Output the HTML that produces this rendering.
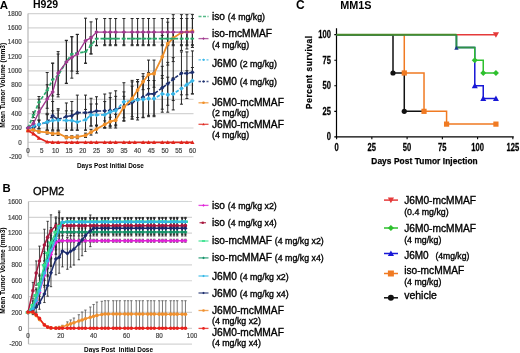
<!DOCTYPE html>
<html><head><meta charset="utf-8"><style>
html,body{margin:0;padding:0;background:#fff;}
body{width:520px;height:353px;overflow:hidden;font-family:"Liberation Sans", sans-serif;}
svg{display:block;will-change:transform;}
.l{stroke:#000;stroke-width:0.35px;}
.t{stroke:#444;stroke-width:0.2px;}
.c{stroke:#000;stroke-width:0.25px;}
</style></head><body><svg width="520" height="353" viewBox="0 0 520 353" font-family='"Liberation Sans", sans-serif'><line x1="28" y1="156.6" x2="193.5" y2="156.6" stroke="#d4d4d4" stroke-width="1.2"/><line x1="28" y1="142.3" x2="193.5" y2="142.3" stroke="#d4d4d4" stroke-width="1.2"/><line x1="28" y1="128" x2="193.5" y2="128" stroke="#d4d4d4" stroke-width="1.2"/><line x1="28" y1="113.7" x2="193.5" y2="113.7" stroke="#d4d4d4" stroke-width="1.2"/><line x1="28" y1="99.4" x2="193.5" y2="99.4" stroke="#d4d4d4" stroke-width="1.2"/><line x1="28" y1="85.1" x2="193.5" y2="85.1" stroke="#d4d4d4" stroke-width="1.2"/><line x1="28" y1="70.8" x2="193.5" y2="70.8" stroke="#d4d4d4" stroke-width="1.2"/><line x1="28" y1="56.5" x2="193.5" y2="56.5" stroke="#d4d4d4" stroke-width="1.2"/><line x1="28" y1="42.2" x2="193.5" y2="42.2" stroke="#d4d4d4" stroke-width="1.2"/><line x1="28" y1="27.9" x2="193.5" y2="27.9" stroke="#d4d4d4" stroke-width="1.2"/><line x1="28" y1="13.6" x2="193.5" y2="13.6" stroke="#d4d4d4" stroke-width="1.2"/><line x1="28" y1="13.6" x2="28" y2="156.6" stroke="#b8b8b8" stroke-width="1.2"/><text x="21.8" y="158.8" font-size="6.3" font-weight="normal" text-anchor="end" fill="#444" class="t">-200</text><text x="21.8" y="144.5" font-size="6.3" font-weight="normal" text-anchor="end" fill="#444" class="t">0</text><text x="21.8" y="130.2" font-size="6.3" font-weight="normal" text-anchor="end" fill="#444" class="t">200</text><text x="21.8" y="115.9" font-size="6.3" font-weight="normal" text-anchor="end" fill="#444" class="t">400</text><text x="21.8" y="101.6" font-size="6.3" font-weight="normal" text-anchor="end" fill="#444" class="t">600</text><text x="21.8" y="87.3" font-size="6.3" font-weight="normal" text-anchor="end" fill="#444" class="t">800</text><text x="21.8" y="73" font-size="6.3" font-weight="normal" text-anchor="end" fill="#444" class="t">1000</text><text x="21.8" y="58.7" font-size="6.3" font-weight="normal" text-anchor="end" fill="#444" class="t">1200</text><text x="21.8" y="44.4" font-size="6.3" font-weight="normal" text-anchor="end" fill="#444" class="t">1400</text><text x="21.8" y="30.1" font-size="6.3" font-weight="normal" text-anchor="end" fill="#444" class="t">1600</text><text x="21.8" y="15.8" font-size="6.3" font-weight="normal" text-anchor="end" fill="#444" class="t">1800</text><text x="28" y="152.8" font-size="6.3" font-weight="normal" text-anchor="middle" fill="#444" class="t">0</text><text x="41.7" y="152.8" font-size="6.3" font-weight="normal" text-anchor="middle" fill="#444" class="t">5</text><text x="55.4" y="152.8" font-size="6.3" font-weight="normal" text-anchor="middle" fill="#444" class="t">10</text><text x="69.1" y="152.8" font-size="6.3" font-weight="normal" text-anchor="middle" fill="#444" class="t">15</text><text x="82.8" y="152.8" font-size="6.3" font-weight="normal" text-anchor="middle" fill="#444" class="t">20</text><text x="96.5" y="152.8" font-size="6.3" font-weight="normal" text-anchor="middle" fill="#444" class="t">25</text><text x="110.2" y="152.8" font-size="6.3" font-weight="normal" text-anchor="middle" fill="#444" class="t">30</text><text x="123.9" y="152.8" font-size="6.3" font-weight="normal" text-anchor="middle" fill="#444" class="t">35</text><text x="137.6" y="152.8" font-size="6.3" font-weight="normal" text-anchor="middle" fill="#444" class="t">40</text><text x="151.3" y="152.8" font-size="6.3" font-weight="normal" text-anchor="middle" fill="#444" class="t">45</text><text x="165" y="152.8" font-size="6.3" font-weight="normal" text-anchor="middle" fill="#444" class="t">50</text><text x="178.7" y="152.8" font-size="6.3" font-weight="normal" text-anchor="middle" fill="#444" class="t">55</text><text x="192.4" y="152.8" font-size="6.3" font-weight="normal" text-anchor="middle" fill="#444" class="t">60</text><path d="M33.48 124.64V130.36M31.98 124.64H34.98M31.98 130.36H34.98M38.96 120.14V128.72M37.46 120.14H40.46M37.46 128.72H40.46M47.18 114.7V130.15M45.68 114.7H48.68M45.68 130.15H48.68M52.66 101.47V130.07M51.16 101.47H54.16M51.16 130.07H54.16M58.14 108.7V130.15M56.64 108.7H59.64M56.64 130.15H59.64M66.36 102.98V130.15M64.86 102.98H67.86M64.86 130.15H67.86M71.84 101.47V130.07M70.34 101.47H73.34M70.34 130.07H73.34M77.32 95.11V130.15M75.82 95.11H78.82M75.82 130.15H78.82M85.54 95.11V130.15M84.04 95.11H87.04M84.04 130.15H87.04M91.02 98.26V126M89.52 98.26H92.52M89.52 126H92.52M96.5 96.75V125.35M95 96.75H98M95 125.35H98M104.72 94.04V127.64M103.22 94.04H106.22M103.22 127.64H106.22M110.2 92.97V128M108.7 92.97H111.7M108.7 128H111.7M115.68 90.82V128M114.18 90.82H117.18M114.18 128H117.18M123.9 91.89V121.21M122.4 91.89H125.4M122.4 121.21H125.4M132.12 86.17V119.06M130.62 86.17H133.62M130.62 119.06H133.62M137.6 79.52V119.99M136.1 79.52H139.1M136.1 119.99H139.1M143.08 76.31V117.78M141.58 76.31H144.58M141.58 117.78H144.58M148.56 72.44V115.34M147.06 72.44H150.06M147.06 115.34H150.06M154.04 72.44V115.34M152.54 72.44H155.54M152.54 115.34H155.54M162.26 66.3V109.2M160.76 66.3H163.76M160.76 109.2H163.76M167.74 62.36V105.26M166.24 62.36H169.24M166.24 105.26H169.24M173.22 57.64V100.54M171.72 57.64H174.72M171.72 100.54H174.72M181.44 51.92V94.82M179.94 51.92H182.94M179.94 94.82H182.94M186.92 51.92V94.82M185.42 51.92H188.42M185.42 94.82H188.42M192.4 50.92V93.82M190.9 50.92H193.9M190.9 93.82H193.9" stroke="#262626" stroke-width="1.0" fill="none"/><path d="M33.48 123V128.72M31.98 123H34.98M31.98 128.72H34.98M38.96 120.14V128.72M37.46 120.14H40.46M37.46 128.72H40.46M47.18 114.2V129.93M45.68 114.2H48.68M45.68 129.93H48.68M52.66 110.84V130.15M51.16 110.84H54.16M51.16 130.15H54.16M58.14 110.13V130.15M56.64 110.13H59.64M56.64 130.15H59.64M66.36 110.84V130.15M64.86 110.84H67.86M64.86 130.15H67.86M71.84 110.84V130.15M70.34 110.84H73.34M70.34 130.15H73.34M77.32 113.99V130.15M75.82 113.99H78.82M75.82 130.15H78.82M85.54 109.41V130.15M84.04 109.41H87.04M84.04 130.15H87.04M91.02 103.98V126M89.52 103.98H92.52M89.52 126H92.52M96.5 103.98V126M95 103.98H98M95 126H98M104.72 101.55V128M103.22 101.55H106.22M103.22 128H106.22M110.2 97.61V126.21M108.7 97.61H111.7M108.7 126.21H111.7M115.68 96.33V124.93M114.18 96.33H117.18M114.18 124.93H117.18M123.9 82.74V120.64M122.4 82.74H125.4M122.4 120.64H125.4M132.12 81.88V119.06M130.62 81.88H133.62M130.62 119.06H133.62M137.6 81.88V117.63M136.1 81.88H139.1M136.1 117.63H139.1M143.08 81.53V117.28M141.58 81.53H144.58M141.58 117.28H144.58M148.56 80.52V116.7M147.06 80.52H150.06M147.06 116.7H150.06M154.04 80.52V116.7M152.54 80.52H155.54M152.54 116.7H155.54M162.26 75.59V112.2M160.76 75.59H163.76M160.76 112.2H163.76M167.74 77.16V112.2M166.24 77.16H169.24M166.24 112.2H169.24M173.22 77.88V109.91M171.72 77.88H174.72M171.72 109.91H174.72M181.44 72.87V104.19M179.94 72.87H182.94M179.94 104.19H182.94M186.92 70.73V98.47M185.42 70.73H188.42M185.42 98.47H188.42M192.4 67.51V93.97M190.9 67.51H193.9M190.9 93.97H193.9" stroke="#262626" stroke-width="1.0" fill="none"/><path d="M33.48 128.72V130.86M31.98 128.72H34.98M31.98 130.86H34.98M38.96 130.15V133.01M37.46 130.15H40.46M37.46 133.01H40.46M47.18 130.5V134.08M45.68 130.5H48.68M45.68 134.08H48.68M52.66 131.93V135.51M51.16 131.93H54.16M51.16 135.51H54.16M58.14 131.22V135.51M56.64 131.22H59.64M56.64 135.51H59.64M66.36 135.87V138.73M64.86 135.87H67.86M64.86 138.73H67.86M71.84 135.72V138.58M70.34 135.72H73.34M70.34 138.58H73.34M77.32 135.15V138.73M75.82 135.15H78.82M75.82 138.73H78.82M85.54 133.15V137.44M84.04 133.15H87.04M84.04 137.44H87.04M91.02 129.36V135.08M89.52 129.36H92.52M89.52 135.08H92.52M96.5 125.14V133.01M95 125.14H98M95 133.01H98M104.72 120.85V128M103.22 120.85H106.22M103.22 128H106.22M110.2 117.28V125.86M108.7 117.28H111.7M108.7 125.86H111.7M115.68 114.42V125.86M114.18 114.42H117.18M114.18 125.86H117.18M123.9 96.33V117.78M122.4 96.33H125.4M122.4 117.78H125.4M132.12 80.38V116.7M130.62 80.38H133.62M130.62 116.7H133.62M137.6 81.53V98.69M136.1 81.53H139.1M136.1 98.69H139.1M143.08 73.66V89.68M141.58 73.66H144.58M141.58 89.68H144.58M148.56 60.08V88.68M147.06 60.08H150.06M147.06 88.68H150.06M154.04 60.08V87.25M152.54 60.08H155.54M152.54 87.25H155.54M162.26 35.41V78.31M160.76 35.41H163.76M160.76 78.31H163.76M167.74 22.18V65.08M166.24 22.18H169.24M166.24 65.08H169.24M173.22 14.67V61.58M171.72 14.67H174.72M171.72 61.58H174.72M181.44 14.67V50.42M179.94 14.67H182.94M179.94 50.42H182.94M186.92 14.67V48.99M185.42 14.67H188.42M185.42 48.99H188.42M192.4 14.6V47.49M190.9 14.6H193.9M190.9 47.49H193.9" stroke="#262626" stroke-width="1.0" fill="none"/><path d="M33.48 111.91V117.63M31.98 111.91H34.98M31.98 117.63H34.98M38.96 96.54V107.98M37.46 96.54H40.46M37.46 107.98H40.46M47.18 72.52V108.27M45.68 72.52H48.68M45.68 108.27H48.68M52.66 63.08V95.97M51.16 63.08H54.16M51.16 95.97H54.16M58.14 54V96.9M56.64 54H59.64M56.64 96.9H59.64M66.36 40.27V83.17M64.86 40.27H67.86M64.86 83.17H67.86M71.84 36.77V71.09M70.34 36.77H73.34M70.34 71.09H73.34M77.32 34.48V71.66M75.82 34.48H78.82M75.82 71.66H78.82M85.54 40.34V63.22M84.04 40.34H87.04M84.04 63.22H87.04M91.02 36.62V53.93M89.52 36.62H92.52M89.52 53.93H92.52M96.5 31.48V45.78M95 31.48H98M95 45.78H98M104.72 32.55V44.7M103.22 32.55H106.22M103.22 44.7H106.22M110.2 32.55V44.7M108.7 32.55H111.7M108.7 44.7H111.7M115.68 32.55V44.7M114.18 32.55H117.18M114.18 44.7H117.18M123.9 32.55V44.7M122.4 32.55H125.4M122.4 44.7H125.4M132.12 32.55V44.7M130.62 32.55H133.62M130.62 44.7H133.62M137.6 32.55V44.7M136.1 32.55H139.1M136.1 44.7H139.1M143.08 32.55V44.7M141.58 32.55H144.58M141.58 44.7H144.58M148.56 32.55V44.7M147.06 32.55H150.06M147.06 44.7H150.06M154.04 32.55V44.7M152.54 32.55H155.54M152.54 44.7H155.54M162.26 32.55V44.7M160.76 32.55H163.76M160.76 44.7H163.76M167.74 32.55V44.7M166.24 32.55H169.24M166.24 44.7H169.24M173.22 32.55V44.7M171.72 32.55H174.72M171.72 44.7H174.72M181.44 32.55V44.7M179.94 32.55H182.94M179.94 44.7H182.94M186.92 32.55V44.7M185.42 32.55H188.42M185.42 44.7H188.42M192.4 32.55V44.7M190.9 32.55H193.9M190.9 44.7H193.9" stroke="#262626" stroke-width="1.0" fill="none"/><path d="M33.48 120.71V126.43M31.98 120.71H34.98M31.98 126.43H34.98M38.96 99.19V124.93M37.46 99.19H40.46M37.46 124.93H40.46M47.18 84.74V113.34M45.68 84.74H48.68M45.68 113.34H48.68M52.66 63.29V120.49M51.16 63.29H54.16M51.16 120.49H54.16M58.14 51.64V94.54M56.64 51.64H59.64M56.64 94.54H59.64M66.36 40.63V83.53M64.86 40.63H67.86M64.86 83.53H67.86M71.84 36.69V78.16M70.34 36.69H73.34M70.34 78.16H73.34M77.32 34.34V73.66M75.82 34.34H78.82M75.82 73.66H78.82M85.54 18.18V63.22M84.04 18.18H87.04M84.04 63.22H87.04M91.02 21.89V53.93M89.52 21.89H92.52M89.52 53.93H92.52M96.5 18.89V45.35M95 18.89H98M95 45.35H98M104.72 18.53V45.7M103.22 18.53H106.22M103.22 45.7H106.22M110.2 18.53V45.7M108.7 18.53H111.7M108.7 45.7H111.7M115.68 18.53V45.7M114.18 18.53H117.18M114.18 45.7H117.18M123.9 18.53V45.7M122.4 18.53H125.4M122.4 45.7H125.4M132.12 18.53V45.7M130.62 18.53H133.62M130.62 45.7H133.62M137.6 18.53V45.7M136.1 18.53H139.1M136.1 45.7H139.1M143.08 18.53V45.7M141.58 18.53H144.58M141.58 45.7H144.58M148.56 18.53V45.7M147.06 18.53H150.06M147.06 45.7H150.06M154.04 18.53V45.7M152.54 18.53H155.54M152.54 45.7H155.54M162.26 18.53V45.7M160.76 18.53H163.76M160.76 45.7H163.76M167.74 18.53V45.7M166.24 18.53H169.24M166.24 45.7H169.24M173.22 18.53V45.7M171.72 18.53H174.72M171.72 45.7H174.72M181.44 18.53V45.7M179.94 18.53H182.94M179.94 45.7H182.94M186.92 18.53V45.7M185.42 18.53H188.42M185.42 45.7H188.42M192.4 18.53V45.7M190.9 18.53H193.9M190.9 45.7H193.9" stroke="#262626" stroke-width="1.0" fill="none"/><polyline points="28,128 33.48,127.5 38.96,124.43 47.18,122.42 52.66,115.77 58.14,119.42 66.36,116.56 71.84,115.77 77.32,112.63 85.54,112.63 91.02,112.13 96.5,111.05 104.72,110.84 110.2,110.48 115.68,109.41 123.9,106.55 132.12,102.62 137.6,99.76 143.08,97.04 148.56,93.89 154.04,93.89 162.26,87.75 167.74,83.81 173.22,79.09 181.44,73.37 186.92,73.37 192.4,72.37" stroke="#1d2f6e" stroke-width="1.6" fill="none" stroke-linejoin="round" stroke-dasharray="3.5,1.6"/><path d="M28 125.8L30.2 128L28 130.2L25.8 128Z" fill="#1d2f6e"/><path d="M33.48 125.3L35.68 127.5L33.48 129.7L31.28 127.5Z" fill="#1d2f6e"/><path d="M38.96 122.23L41.16 124.43L38.96 126.63L36.76 124.43Z" fill="#1d2f6e"/><path d="M47.18 120.22L49.38 122.42L47.18 124.62L44.98 122.42Z" fill="#1d2f6e"/><path d="M52.66 113.57L54.86 115.77L52.66 117.97L50.46 115.77Z" fill="#1d2f6e"/><path d="M58.14 117.22L60.34 119.42L58.14 121.62L55.94 119.42Z" fill="#1d2f6e"/><path d="M66.36 114.36L68.56 116.56L66.36 118.76L64.16 116.56Z" fill="#1d2f6e"/><path d="M71.84 113.57L74.04 115.77L71.84 117.97L69.64 115.77Z" fill="#1d2f6e"/><path d="M77.32 110.43L79.52 112.63L77.32 114.83L75.12 112.63Z" fill="#1d2f6e"/><path d="M85.54 110.43L87.74 112.63L85.54 114.83L83.34 112.63Z" fill="#1d2f6e"/><path d="M91.02 109.93L93.22 112.13L91.02 114.33L88.82 112.13Z" fill="#1d2f6e"/><path d="M96.5 108.85L98.7 111.05L96.5 113.25L94.3 111.05Z" fill="#1d2f6e"/><path d="M104.72 108.64L106.92 110.84L104.72 113.04L102.52 110.84Z" fill="#1d2f6e"/><path d="M110.2 108.28L112.4 110.48L110.2 112.68L108 110.48Z" fill="#1d2f6e"/><path d="M115.68 107.21L117.88 109.41L115.68 111.61L113.48 109.41Z" fill="#1d2f6e"/><path d="M123.9 104.35L126.1 106.55L123.9 108.75L121.7 106.55Z" fill="#1d2f6e"/><path d="M132.12 100.42L134.32 102.62L132.12 104.82L129.92 102.62Z" fill="#1d2f6e"/><path d="M137.6 97.56L139.8 99.76L137.6 101.96L135.4 99.76Z" fill="#1d2f6e"/><path d="M143.08 94.84L145.28 97.04L143.08 99.24L140.88 97.04Z" fill="#1d2f6e"/><path d="M148.56 91.69L150.76 93.89L148.56 96.09L146.36 93.89Z" fill="#1d2f6e"/><path d="M154.04 91.69L156.24 93.89L154.04 96.09L151.84 93.89Z" fill="#1d2f6e"/><path d="M162.26 85.55L164.46 87.75L162.26 89.95L160.06 87.75Z" fill="#1d2f6e"/><path d="M167.74 81.61L169.94 83.81L167.74 86.01L165.54 83.81Z" fill="#1d2f6e"/><path d="M173.22 76.89L175.42 79.09L173.22 81.29L171.02 79.09Z" fill="#1d2f6e"/><path d="M181.44 71.17L183.64 73.37L181.44 75.57L179.24 73.37Z" fill="#1d2f6e"/><path d="M186.92 71.17L189.12 73.37L186.92 75.57L184.72 73.37Z" fill="#1d2f6e"/><path d="M192.4 70.17L194.6 72.37L192.4 74.57L190.2 72.37Z" fill="#1d2f6e"/><polyline points="28,128 33.48,125.86 38.96,124.43 47.18,122.07 52.66,120.49 58.14,120.14 66.36,120.49 71.84,120.49 77.32,122.07 85.54,119.78 91.02,114.99 96.5,114.99 104.72,114.77 110.2,111.91 115.68,110.63 123.9,101.69 132.12,100.47 137.6,99.76 143.08,99.4 148.56,98.61 154.04,98.61 162.26,93.89 167.74,94.68 173.22,93.89 181.44,88.53 186.92,84.6 192.4,80.74" stroke="#38b6e8" stroke-width="1.7" fill="none" stroke-linejoin="round" stroke-dasharray="3.5,1.6"/><path d="M28 125.7L30.3 128L28 130.3L25.7 128Z" fill="#38b6e8"/><path d="M33.48 123.56L35.78 125.86L33.48 128.16L31.18 125.86Z" fill="#38b6e8"/><path d="M38.96 122.13L41.26 124.43L38.96 126.73L36.66 124.43Z" fill="#38b6e8"/><path d="M47.18 119.77L49.48 122.07L47.18 124.37L44.88 122.07Z" fill="#38b6e8"/><path d="M52.66 118.19L54.96 120.49L52.66 122.79L50.36 120.49Z" fill="#38b6e8"/><path d="M58.14 117.84L60.44 120.14L58.14 122.44L55.84 120.14Z" fill="#38b6e8"/><path d="M66.36 118.19L68.66 120.49L66.36 122.79L64.06 120.49Z" fill="#38b6e8"/><path d="M71.84 118.19L74.14 120.49L71.84 122.79L69.54 120.49Z" fill="#38b6e8"/><path d="M77.32 119.77L79.62 122.07L77.32 124.37L75.02 122.07Z" fill="#38b6e8"/><path d="M85.54 117.48L87.84 119.78L85.54 122.08L83.24 119.78Z" fill="#38b6e8"/><path d="M91.02 112.69L93.32 114.99L91.02 117.29L88.72 114.99Z" fill="#38b6e8"/><path d="M96.5 112.69L98.8 114.99L96.5 117.29L94.2 114.99Z" fill="#38b6e8"/><path d="M104.72 112.47L107.02 114.77L104.72 117.07L102.42 114.77Z" fill="#38b6e8"/><path d="M110.2 109.61L112.5 111.91L110.2 114.21L107.9 111.91Z" fill="#38b6e8"/><path d="M115.68 108.33L117.98 110.63L115.68 112.93L113.38 110.63Z" fill="#38b6e8"/><path d="M123.9 99.39L126.2 101.69L123.9 103.99L121.6 101.69Z" fill="#38b6e8"/><path d="M132.12 98.17L134.42 100.47L132.12 102.77L129.82 100.47Z" fill="#38b6e8"/><path d="M137.6 97.46L139.9 99.76L137.6 102.06L135.3 99.76Z" fill="#38b6e8"/><path d="M143.08 97.1L145.38 99.4L143.08 101.7L140.78 99.4Z" fill="#38b6e8"/><path d="M148.56 96.31L150.86 98.61L148.56 100.91L146.26 98.61Z" fill="#38b6e8"/><path d="M154.04 96.31L156.34 98.61L154.04 100.91L151.74 98.61Z" fill="#38b6e8"/><path d="M162.26 91.59L164.56 93.89L162.26 96.19L159.96 93.89Z" fill="#38b6e8"/><path d="M167.74 92.38L170.04 94.68L167.74 96.98L165.44 94.68Z" fill="#38b6e8"/><path d="M173.22 91.59L175.52 93.89L173.22 96.19L170.92 93.89Z" fill="#38b6e8"/><path d="M181.44 86.23L183.74 88.53L181.44 90.83L179.14 88.53Z" fill="#38b6e8"/><path d="M186.92 82.3L189.22 84.6L186.92 86.9L184.62 84.6Z" fill="#38b6e8"/><path d="M192.4 78.44L194.7 80.74L192.4 83.04L190.1 80.74Z" fill="#38b6e8"/><polyline points="28,130.5 33.48,129.79 38.96,131.58 47.18,132.29 52.66,133.72 58.14,133.36 66.36,137.3 71.84,137.15 77.32,136.94 85.54,135.29 91.02,132.22 96.5,129.07 104.72,124.43 110.2,121.57 115.68,120.14 123.9,107.05 132.12,98.54 137.6,90.11 143.08,81.67 148.56,74.38 154.04,73.66 162.26,56.86 167.74,43.63 173.22,38.12 181.44,32.55 186.92,31.83 192.4,31.05" stroke="#f0902a" stroke-width="1.8" fill="none" stroke-linejoin="round"/><circle cx="28" cy="130.5" r="1.9" fill="#f0902a"/><circle cx="33.48" cy="129.79" r="1.9" fill="#f0902a"/><circle cx="38.96" cy="131.58" r="1.9" fill="#f0902a"/><circle cx="47.18" cy="132.29" r="1.9" fill="#f0902a"/><circle cx="52.66" cy="133.72" r="1.9" fill="#f0902a"/><circle cx="58.14" cy="133.36" r="1.9" fill="#f0902a"/><circle cx="66.36" cy="137.3" r="1.9" fill="#f0902a"/><circle cx="71.84" cy="137.15" r="1.9" fill="#f0902a"/><circle cx="77.32" cy="136.94" r="1.9" fill="#f0902a"/><circle cx="85.54" cy="135.29" r="1.9" fill="#f0902a"/><circle cx="91.02" cy="132.22" r="1.9" fill="#f0902a"/><circle cx="96.5" cy="129.07" r="1.9" fill="#f0902a"/><circle cx="104.72" cy="124.43" r="1.9" fill="#f0902a"/><circle cx="110.2" cy="121.57" r="1.9" fill="#f0902a"/><circle cx="115.68" cy="120.14" r="1.9" fill="#f0902a"/><circle cx="123.9" cy="107.05" r="1.9" fill="#f0902a"/><circle cx="132.12" cy="98.54" r="1.9" fill="#f0902a"/><circle cx="137.6" cy="90.11" r="1.9" fill="#f0902a"/><circle cx="143.08" cy="81.67" r="1.9" fill="#f0902a"/><circle cx="148.56" cy="74.38" r="1.9" fill="#f0902a"/><circle cx="154.04" cy="73.66" r="1.9" fill="#f0902a"/><circle cx="162.26" cy="56.86" r="1.9" fill="#f0902a"/><circle cx="167.74" cy="43.63" r="1.9" fill="#f0902a"/><circle cx="173.22" cy="38.12" r="1.9" fill="#f0902a"/><circle cx="181.44" cy="32.55" r="1.9" fill="#f0902a"/><circle cx="186.92" cy="31.83" r="1.9" fill="#f0902a"/><circle cx="192.4" cy="31.05" r="1.9" fill="#f0902a"/><polyline points="28,128 33.48,114.77 38.96,102.26 47.18,90.39 52.66,79.52 58.14,75.45 66.36,61.72 71.84,53.93 77.32,53.07 85.54,51.78 91.02,45.27 96.5,38.63 104.72,38.63 110.2,38.63 115.68,38.63 123.9,38.63 132.12,38.63 137.6,38.63 143.08,38.63 148.56,38.63 154.04,38.63 162.26,38.63 167.74,38.63 173.22,38.63 181.44,38.63 186.92,38.63 192.4,38.63" stroke="#2aa86a" stroke-width="1.7" fill="none" stroke-linejoin="round" stroke-dasharray="3.5,1.8"/><rect x="26.32" y="127.16" width="3.36" height="1.68" fill="#2aa86a"/><rect x="31.8" y="113.93" width="3.36" height="1.68" fill="#2aa86a"/><rect x="37.28" y="101.42" width="3.36" height="1.68" fill="#2aa86a"/><rect x="45.5" y="89.55" width="3.36" height="1.68" fill="#2aa86a"/><rect x="50.98" y="78.68" width="3.36" height="1.68" fill="#2aa86a"/><rect x="56.46" y="74.61" width="3.36" height="1.68" fill="#2aa86a"/><rect x="64.68" y="60.88" width="3.36" height="1.68" fill="#2aa86a"/><rect x="70.16" y="53.09" width="3.36" height="1.68" fill="#2aa86a"/><rect x="75.64" y="52.23" width="3.36" height="1.68" fill="#2aa86a"/><rect x="83.86" y="50.94" width="3.36" height="1.68" fill="#2aa86a"/><rect x="89.34" y="44.43" width="3.36" height="1.68" fill="#2aa86a"/><rect x="94.82" y="37.79" width="3.36" height="1.68" fill="#2aa86a"/><rect x="103.04" y="37.79" width="3.36" height="1.68" fill="#2aa86a"/><rect x="108.52" y="37.79" width="3.36" height="1.68" fill="#2aa86a"/><rect x="114" y="37.79" width="3.36" height="1.68" fill="#2aa86a"/><rect x="122.22" y="37.79" width="3.36" height="1.68" fill="#2aa86a"/><rect x="130.44" y="37.79" width="3.36" height="1.68" fill="#2aa86a"/><rect x="135.92" y="37.79" width="3.36" height="1.68" fill="#2aa86a"/><rect x="141.4" y="37.79" width="3.36" height="1.68" fill="#2aa86a"/><rect x="146.88" y="37.79" width="3.36" height="1.68" fill="#2aa86a"/><rect x="152.36" y="37.79" width="3.36" height="1.68" fill="#2aa86a"/><rect x="160.58" y="37.79" width="3.36" height="1.68" fill="#2aa86a"/><rect x="166.06" y="37.79" width="3.36" height="1.68" fill="#2aa86a"/><rect x="171.54" y="37.79" width="3.36" height="1.68" fill="#2aa86a"/><rect x="179.76" y="37.79" width="3.36" height="1.68" fill="#2aa86a"/><rect x="185.24" y="37.79" width="3.36" height="1.68" fill="#2aa86a"/><rect x="190.72" y="37.79" width="3.36" height="1.68" fill="#2aa86a"/><polyline points="28,128 33.48,123.57 38.96,112.06 47.18,99.04 52.66,91.89 58.14,73.09 66.36,62.08 71.84,57.43 77.32,54 85.54,40.7 91.02,37.91 96.5,32.12 104.72,32.12 110.2,32.12 115.68,32.12 123.9,32.12 132.12,32.12 137.6,32.12 143.08,32.12 148.56,32.12 154.04,32.12 162.26,32.12 167.74,32.12 173.22,32.12 181.44,32.12 186.92,32.12 192.4,32.12" stroke="#a0388f" stroke-width="1.4" fill="none" stroke-linejoin="round"/><path d="M28 125.8L30.2 128L28 130.2L25.8 128Z" fill="#a0388f"/><path d="M33.48 121.37L35.68 123.57L33.48 125.77L31.28 123.57Z" fill="#a0388f"/><path d="M38.96 109.86L41.16 112.06L38.96 114.26L36.76 112.06Z" fill="#a0388f"/><path d="M47.18 96.84L49.38 99.04L47.18 101.24L44.98 99.04Z" fill="#a0388f"/><path d="M52.66 89.69L54.86 91.89L52.66 94.09L50.46 91.89Z" fill="#a0388f"/><path d="M58.14 70.89L60.34 73.09L58.14 75.29L55.94 73.09Z" fill="#a0388f"/><path d="M66.36 59.88L68.56 62.08L66.36 64.28L64.16 62.08Z" fill="#a0388f"/><path d="M71.84 55.23L74.04 57.43L71.84 59.63L69.64 57.43Z" fill="#a0388f"/><path d="M77.32 51.8L79.52 54L77.32 56.2L75.12 54Z" fill="#a0388f"/><path d="M85.54 38.5L87.74 40.7L85.54 42.9L83.34 40.7Z" fill="#a0388f"/><path d="M91.02 35.71L93.22 37.91L91.02 40.11L88.82 37.91Z" fill="#a0388f"/><path d="M96.5 29.92L98.7 32.12L96.5 34.32L94.3 32.12Z" fill="#a0388f"/><path d="M104.72 29.92L106.92 32.12L104.72 34.32L102.52 32.12Z" fill="#a0388f"/><path d="M110.2 29.92L112.4 32.12L110.2 34.32L108 32.12Z" fill="#a0388f"/><path d="M115.68 29.92L117.88 32.12L115.68 34.32L113.48 32.12Z" fill="#a0388f"/><path d="M123.9 29.92L126.1 32.12L123.9 34.32L121.7 32.12Z" fill="#a0388f"/><path d="M132.12 29.92L134.32 32.12L132.12 34.32L129.92 32.12Z" fill="#a0388f"/><path d="M137.6 29.92L139.8 32.12L137.6 34.32L135.4 32.12Z" fill="#a0388f"/><path d="M143.08 29.92L145.28 32.12L143.08 34.32L140.88 32.12Z" fill="#a0388f"/><path d="M148.56 29.92L150.76 32.12L148.56 34.32L146.36 32.12Z" fill="#a0388f"/><path d="M154.04 29.92L156.24 32.12L154.04 34.32L151.84 32.12Z" fill="#a0388f"/><path d="M162.26 29.92L164.46 32.12L162.26 34.32L160.06 32.12Z" fill="#a0388f"/><path d="M167.74 29.92L169.94 32.12L167.74 34.32L165.54 32.12Z" fill="#a0388f"/><path d="M173.22 29.92L175.42 32.12L173.22 34.32L171.02 32.12Z" fill="#a0388f"/><path d="M181.44 29.92L183.64 32.12L181.44 34.32L179.24 32.12Z" fill="#a0388f"/><path d="M186.92 29.92L189.12 32.12L186.92 34.32L184.72 32.12Z" fill="#a0388f"/><path d="M192.4 29.92L194.6 32.12L192.4 34.32L190.2 32.12Z" fill="#a0388f"/><polyline points="28,130.5 33.48,133.72 38.96,138.01 47.18,141.94 52.66,142.3 58.14,142.3 66.36,142.3 71.84,142.3 77.32,142.3 85.54,142.3 91.02,142.3 96.5,142.3 104.72,142.3 110.2,142.3 115.68,142.3 123.9,142.3 129.38,142.3 134.86,142.3 143.08,142.3 148.56,142.3 154.04,142.3 162.26,142.3 167.74,142.3 173.22,142.3 181.44,142.3 186.92,142.3 192.4,142.3" stroke="#e0251d" stroke-width="1.8" fill="none" stroke-linejoin="round"/><path d="M28 128.4L30.1 132.18L25.9 132.18Z" fill="#e0251d"/><path d="M33.48 131.62L35.58 135.4L31.38 135.4Z" fill="#e0251d"/><path d="M38.96 135.91L41.06 139.69L36.86 139.69Z" fill="#e0251d"/><path d="M47.18 139.84L49.28 143.62L45.08 143.62Z" fill="#e0251d"/><path d="M52.66 140.2L54.76 143.98L50.56 143.98Z" fill="#e0251d"/><path d="M58.14 140.2L60.24 143.98L56.04 143.98Z" fill="#e0251d"/><path d="M66.36 140.2L68.46 143.98L64.26 143.98Z" fill="#e0251d"/><path d="M71.84 140.2L73.94 143.98L69.74 143.98Z" fill="#e0251d"/><path d="M77.32 140.2L79.42 143.98L75.22 143.98Z" fill="#e0251d"/><path d="M85.54 140.2L87.64 143.98L83.44 143.98Z" fill="#e0251d"/><path d="M91.02 140.2L93.12 143.98L88.92 143.98Z" fill="#e0251d"/><path d="M96.5 140.2L98.6 143.98L94.4 143.98Z" fill="#e0251d"/><path d="M104.72 140.2L106.82 143.98L102.62 143.98Z" fill="#e0251d"/><path d="M110.2 140.2L112.3 143.98L108.1 143.98Z" fill="#e0251d"/><path d="M115.68 140.2L117.78 143.98L113.58 143.98Z" fill="#e0251d"/><path d="M123.9 140.2L126 143.98L121.8 143.98Z" fill="#e0251d"/><path d="M129.38 140.2L131.48 143.98L127.28 143.98Z" fill="#e0251d"/><path d="M134.86 140.2L136.96 143.98L132.76 143.98Z" fill="#e0251d"/><path d="M143.08 140.2L145.18 143.98L140.98 143.98Z" fill="#e0251d"/><path d="M148.56 140.2L150.66 143.98L146.46 143.98Z" fill="#e0251d"/><path d="M154.04 140.2L156.14 143.98L151.94 143.98Z" fill="#e0251d"/><path d="M162.26 140.2L164.36 143.98L160.16 143.98Z" fill="#e0251d"/><path d="M167.74 140.2L169.84 143.98L165.64 143.98Z" fill="#e0251d"/><path d="M173.22 140.2L175.32 143.98L171.12 143.98Z" fill="#e0251d"/><path d="M181.44 140.2L183.54 143.98L179.34 143.98Z" fill="#e0251d"/><path d="M186.92 140.2L189.02 143.98L184.82 143.98Z" fill="#e0251d"/><path d="M192.4 140.2L194.5 143.98L190.3 143.98Z" fill="#e0251d"/><text x="-0.2" y="8.8" font-size="11.5" font-weight="bold" text-anchor="start" fill="#000">A</text><text x="33" y="8.4" font-size="10.5" font-weight="bold" text-anchor="start" fill="#000">H929</text><text x="76.9" y="167.5" font-size="6.4" font-weight="bold" text-anchor="start" fill="#000" textLength="67" lengthAdjust="spacingAndGlyphs">Days Post Initial Dose</text><text transform="translate(5.3,127.8) rotate(-90)" font-size="6.3" font-weight="bold" textLength="85" lengthAdjust="spacingAndGlyphs">Mean Tumor Volume (mm3)</text><line x1="198.5" y1="16.5" x2="208.5" y2="16.5" stroke="#2aa86a" stroke-width="1.3" stroke-opacity="0.8" stroke-dasharray="3,1.5"/><text class="l" x="212" y="20" font-size="10.2">iso <tspan font-size="8.8">(4 mg/kg)</tspan></text><line x1="198.5" y1="38.6" x2="208.5" y2="38.6" stroke="#a0388f" stroke-width="1.3" stroke-opacity="0.8"/><path d="M203.5 37.3L204.8 38.6L203.5 39.9L202.2 38.6Z" fill="#a0388f"/><text class="l" x="212" y="37.1" font-size="10.2">iso-mcMMAF</text><text class="l" x="212" y="47.5" font-size="8.8">(4 mg/kg)</text><line x1="198.5" y1="59.8" x2="208.5" y2="59.8" stroke="#38b6e8" stroke-width="1.3" stroke-opacity="0.8" stroke-dasharray="2.5,1.5"/><path d="M203.5 58.5L204.8 59.8L203.5 61.1L202.2 59.8Z" fill="#38b6e8"/><text class="l" x="212" y="66.5" font-size="10.2">J6M0 <tspan font-size="8.8">(2 mg/kg)</tspan></text><line x1="198.5" y1="81.5" x2="208.5" y2="81.5" stroke="#1d2f6e" stroke-width="1.3" stroke-opacity="0.8" stroke-dasharray="2.5,1.5"/><path d="M203.5 80.2L204.8 81.5L203.5 82.8L202.2 81.5Z" fill="#1d2f6e"/><text class="l" x="212" y="85.2" font-size="10.2">J6M0 <tspan font-size="8.8">(4 mg/kg)</tspan></text><line x1="198.5" y1="102.8" x2="208.5" y2="102.8" stroke="#f0902a" stroke-width="1.3" stroke-opacity="0.8"/><circle cx="203.5" cy="102.8" r="1.3" fill="#f0902a"/><text class="l" x="212" y="105.6" font-size="10.2">J6M0-mcMMAF</text><text class="l" x="212" y="115.7" font-size="8.8">(2 mg/kg)</text><line x1="198.5" y1="124.3" x2="208.5" y2="124.3" stroke="#e0251d" stroke-width="1.3" stroke-opacity="0.8"/><path d="M203.5 123L204.8 125.34L202.2 125.34Z" fill="#e0251d"/><text class="l" x="212" y="128.2" font-size="10.2">J6M0-mcMMAF</text><text class="l" x="212" y="138.3" font-size="8.8">(4 mg/kg)</text><line x1="28.5" y1="344.15" x2="192" y2="344.15" stroke="#d4d4d4" stroke-width="1.2"/><line x1="28.5" y1="328.3" x2="192" y2="328.3" stroke="#d4d4d4" stroke-width="1.2"/><line x1="28.5" y1="312.45" x2="192" y2="312.45" stroke="#d4d4d4" stroke-width="1.2"/><line x1="28.5" y1="296.6" x2="192" y2="296.6" stroke="#d4d4d4" stroke-width="1.2"/><line x1="28.5" y1="280.75" x2="192" y2="280.75" stroke="#d4d4d4" stroke-width="1.2"/><line x1="28.5" y1="264.9" x2="192" y2="264.9" stroke="#d4d4d4" stroke-width="1.2"/><line x1="28.5" y1="249.05" x2="192" y2="249.05" stroke="#d4d4d4" stroke-width="1.2"/><line x1="28.5" y1="233.2" x2="192" y2="233.2" stroke="#d4d4d4" stroke-width="1.2"/><line x1="28.5" y1="217.35" x2="192" y2="217.35" stroke="#d4d4d4" stroke-width="1.2"/><line x1="28.5" y1="201.5" x2="192" y2="201.5" stroke="#d4d4d4" stroke-width="1.2"/><line x1="28.5" y1="201.5" x2="28.5" y2="344.15" stroke="#b8b8b8" stroke-width="1.2"/><text x="22" y="346.35" font-size="6.3" font-weight="normal" text-anchor="end" fill="#444" class="t">-200</text><text x="22" y="330.5" font-size="6.3" font-weight="normal" text-anchor="end" fill="#444" class="t">0</text><text x="22" y="314.65" font-size="6.3" font-weight="normal" text-anchor="end" fill="#444" class="t">200</text><text x="22" y="298.8" font-size="6.3" font-weight="normal" text-anchor="end" fill="#444" class="t">400</text><text x="22" y="282.95" font-size="6.3" font-weight="normal" text-anchor="end" fill="#444" class="t">600</text><text x="22" y="267.1" font-size="6.3" font-weight="normal" text-anchor="end" fill="#444" class="t">800</text><text x="22" y="251.25" font-size="6.3" font-weight="normal" text-anchor="end" fill="#444" class="t">1000</text><text x="22" y="235.4" font-size="6.3" font-weight="normal" text-anchor="end" fill="#444" class="t">1200</text><text x="22" y="219.55" font-size="6.3" font-weight="normal" text-anchor="end" fill="#444" class="t">1400</text><text x="22" y="203.7" font-size="6.3" font-weight="normal" text-anchor="end" fill="#444" class="t">1600</text><text x="28" y="338.4" font-size="6.3" font-weight="normal" text-anchor="middle" fill="#444" class="t">0</text><text x="60.8" y="338.4" font-size="6.3" font-weight="normal" text-anchor="middle" fill="#444" class="t">20</text><text x="93.6" y="338.4" font-size="6.3" font-weight="normal" text-anchor="middle" fill="#444" class="t">40</text><text x="126.4" y="338.4" font-size="6.3" font-weight="normal" text-anchor="middle" fill="#444" class="t">60</text><text x="159.2" y="338.4" font-size="6.3" font-weight="normal" text-anchor="middle" fill="#444" class="t">80</text><text x="192" y="338.4" font-size="6.3" font-weight="normal" text-anchor="middle" fill="#444" class="t">100</text><path d="M32.92 282.37V298.94M31.72 282.37H34.12M31.72 298.94H34.12M36.2 260.94V285.24M35 260.94H37.4M35 285.24H37.4M39.48 246.12V275.76M38.28 246.12H40.68M38.28 275.76H40.68M44.4 229.24V260.94M43.2 229.24H45.6M43.2 260.94H45.6M47.68 221.31V253.01M46.48 221.31H48.88M46.48 253.01H48.88M50.96 214.84V246.54M49.76 214.84H52.16M49.76 246.54H52.16M55.88 218.14V233.2M54.68 218.14H57.08M54.68 233.2H57.08M59.16 218.14V233.2M57.96 218.14H60.36M57.96 233.2H60.36M62.44 218.14V233.2M61.24 218.14H63.64M61.24 233.2H63.64M67.36 218.14V233.2M66.16 218.14H68.56M66.16 233.2H68.56M70.64 218.14V233.2M69.44 218.14H71.84M69.44 233.2H71.84M73.92 218.14V233.2M72.72 218.14H75.12M72.72 233.2H75.12M78.84 218.14V233.2M77.64 218.14H80.04M77.64 233.2H80.04M82.12 218.14V233.2M80.92 218.14H83.32M80.92 233.2H83.32M85.4 218.14V233.2M84.2 218.14H86.6M84.2 233.2H86.6M90.32 218.14V233.2M89.12 218.14H91.52M89.12 233.2H91.52M93.6 218.14V233.2M92.4 218.14H94.8M92.4 233.2H94.8M96.88 218.14V233.2M95.68 218.14H98.08M95.68 233.2H98.08M101.8 218.14V233.2M100.6 218.14H103M100.6 233.2H103M105.08 218.14V233.2M103.88 218.14H106.28M103.88 233.2H106.28M108.36 218.14V233.2M107.16 218.14H109.56M107.16 233.2H109.56M113.28 218.14V233.2M112.08 218.14H114.48M112.08 233.2H114.48M116.56 218.14V233.2M115.36 218.14H117.76M115.36 233.2H117.76M119.84 218.14V233.2M118.64 218.14H121.04M118.64 233.2H121.04M124.76 218.14V233.2M123.56 218.14H125.96M123.56 233.2H125.96M128.04 218.14V233.2M126.84 218.14H129.24M126.84 233.2H129.24M131.32 218.14V233.2M130.12 218.14H132.52M130.12 233.2H132.52M136.24 218.14V233.2M135.04 218.14H137.44M135.04 233.2H137.44M139.52 218.14V233.2M138.32 218.14H140.72M138.32 233.2H140.72M142.8 218.14V233.2M141.6 218.14H144M141.6 233.2H144M147.72 218.14V233.2M146.52 218.14H148.92M146.52 233.2H148.92M151 218.14V233.2M149.8 218.14H152.2M149.8 233.2H152.2M154.28 218.14V233.2M153.08 218.14H155.48M153.08 233.2H155.48M159.2 218.14V233.2M158 218.14H160.4M158 233.2H160.4M162.48 218.14V233.2M161.28 218.14H163.68M161.28 233.2H163.68M165.76 218.14V233.2M164.56 218.14H166.96M164.56 233.2H166.96M170.68 218.14V233.2M169.48 218.14H171.88M169.48 233.2H171.88M173.96 218.14V233.2M172.76 218.14H175.16M172.76 233.2H175.16M177.24 218.14V233.2M176.04 218.14H178.44M176.04 233.2H178.44M182.16 218.14V233.2M180.96 218.14H183.36M180.96 233.2H183.36M185.44 218.14V233.2M184.24 218.14H186.64M184.24 233.2H186.64" stroke="#262626" stroke-width="0.85" fill="none"/><path d="M32.92 304.13V312.85M31.72 304.13H34.12M31.72 312.85H34.12M36.2 294.46V306.66M35 294.46H37.4M35 306.66H37.4M39.48 282.54V299.04M38.28 282.54H40.68M38.28 299.04H40.68M44.4 260.94V285.24M43.2 260.94H45.6M43.2 285.24H45.6M47.68 246.12V275.76M46.48 246.12H48.88M46.48 275.76H48.88M50.96 235.31V265.43M49.76 235.31H52.16M49.76 265.43H52.16M55.88 223.69V253.81M54.68 223.69H57.08M54.68 253.81H57.08M59.16 212.6V242.71M57.96 212.6H60.36M57.96 242.71H60.36M62.44 217.74V226.46M61.24 217.74H63.64M61.24 226.46H63.64M67.36 217.73V226.44M66.16 217.73H68.56M66.16 226.44H68.56M70.64 217.72V226.43M69.44 217.72H71.84M69.44 226.43H71.84M73.92 217.71V226.42M72.72 217.71H75.12M72.72 226.42H75.12M78.84 217.69V226.41M77.64 217.69H80.04M77.64 226.41H80.04M82.12 217.68V226.4M80.92 217.68H83.32M80.92 226.4H83.32M85.4 217.67V226.39M84.2 217.67H86.6M84.2 226.39H86.6M90.32 217.66V226.37M89.12 217.66H91.52M89.12 226.37H91.52M93.6 217.65V226.36M92.4 217.65H94.8M92.4 226.36H94.8M96.88 217.64V226.35M95.68 217.64H98.08M95.68 226.35H98.08M101.8 217.62V226.34M100.6 217.62H103M100.6 226.34H103M105.08 217.61V226.33M103.88 217.61H106.28M103.88 226.33H106.28M108.36 217.6V226.32M107.16 217.6H109.56M107.16 226.32H109.56M113.28 217.59V226.31M112.08 217.59H114.48M112.08 226.31H114.48M116.56 217.58V226.3M115.36 217.58H117.76M115.36 226.3H117.76M119.84 217.57V226.29M118.64 217.57H121.04M118.64 226.29H121.04M124.76 217.55V226.27M123.56 217.55H125.96M123.56 226.27H125.96M128.04 217.54V226.26M126.84 217.54H129.24M126.84 226.26H129.24M131.32 217.53V226.25M130.12 217.53H132.52M130.12 226.25H132.52M136.24 217.52V226.24M135.04 217.52H137.44M135.04 226.24H137.44M139.52 217.51V226.23M138.32 217.51H140.72M138.32 226.23H140.72M142.8 217.5V226.22M141.6 217.5H144M141.6 226.22H144M147.72 217.48V226.2M146.52 217.48H148.92M146.52 226.2H148.92M151 217.47V226.19M149.8 217.47H152.2M149.8 226.19H152.2M154.28 217.46V226.18M153.08 217.46H155.48M153.08 226.18H155.48M159.2 217.45V226.17M158 217.45H160.4M158 226.17H160.4M162.48 217.44V226.16M161.28 217.44H163.68M161.28 226.16H163.68M165.76 217.43V226.15M164.56 217.43H166.96M164.56 226.15H166.96M170.68 217.41V226.13M169.48 217.41H171.88M169.48 226.13H171.88M173.96 217.4V226.12M172.76 217.4H175.16M172.76 226.12H175.16M177.24 217.39V226.11M176.04 217.39H178.44M176.04 226.11H178.44M182.16 217.38V226.1M180.96 217.38H183.36M180.96 226.1H183.36M185.44 217.37V226.09M184.24 217.37H186.64M184.24 226.09H186.64" stroke="#262626" stroke-width="0.85" fill="none"/><path d="M32.92 300.26V310.37M31.72 300.26H34.12M31.72 310.37H34.12M36.2 288.01V302.54M35 288.01H37.4M35 302.54H37.4M39.48 274.16V293.68M38.28 274.16H40.68M38.28 293.68H40.68M44.4 251.27V279.05M43.2 251.27H45.6M43.2 279.05H45.6M47.68 237.96V268.07M46.48 237.96H48.88M46.48 268.07H48.88M50.96 227.65V257.77M49.76 227.65H52.16M49.76 257.77H52.16M55.88 216.95V247.07M54.68 216.95H57.08M54.68 247.07H57.08M59.16 211.01V241.12M57.96 211.01H60.36M57.96 241.12H60.36M62.44 219.13V226.27M61.24 219.13H63.64M61.24 226.27H63.64M67.36 218.14V225.28M66.16 218.14H68.56M66.16 225.28H68.56M70.64 218.14V225.28M69.44 218.14H71.84M69.44 225.28H71.84M73.92 218.14V225.28M72.72 218.14H75.12M72.72 225.28H75.12M78.84 218.14V225.28M77.64 218.14H80.04M77.64 225.28H80.04M82.12 218.14V225.28M80.92 218.14H83.32M80.92 225.28H83.32M85.4 218.14V225.28M84.2 218.14H86.6M84.2 225.28H86.6M90.32 218.14V225.28M89.12 218.14H91.52M89.12 225.28H91.52M93.6 218.14V225.28M92.4 218.14H94.8M92.4 225.28H94.8M96.88 218.14V225.28M95.68 218.14H98.08M95.68 225.28H98.08M101.8 218.14V225.28M100.6 218.14H103M100.6 225.28H103M105.08 218.14V225.28M103.88 218.14H106.28M103.88 225.28H106.28M108.36 218.14V225.28M107.16 218.14H109.56M107.16 225.28H109.56M113.28 218.14V225.28M112.08 218.14H114.48M112.08 225.28H114.48M116.56 218.14V225.28M115.36 218.14H117.76M115.36 225.28H117.76M119.84 218.14V225.28M118.64 218.14H121.04M118.64 225.28H121.04M124.76 218.14V225.28M123.56 218.14H125.96M123.56 225.28H125.96M128.04 218.14V225.28M126.84 218.14H129.24M126.84 225.28H129.24M131.32 218.14V225.28M130.12 218.14H132.52M130.12 225.28H132.52M136.24 218.14V225.28M135.04 218.14H137.44M135.04 225.28H137.44M139.52 218.14V225.28M138.32 218.14H140.72M138.32 225.28H140.72M142.8 218.14V225.28M141.6 218.14H144M141.6 225.28H144M147.72 218.14V225.28M146.52 218.14H148.92M146.52 225.28H148.92M151 218.14V225.28M149.8 218.14H152.2M149.8 225.28H152.2M154.28 218.14V225.28M153.08 218.14H155.48M153.08 225.28H155.48M159.2 218.14V225.28M158 218.14H160.4M158 225.28H160.4M162.48 218.14V225.28M161.28 218.14H163.68M161.28 225.28H163.68M165.76 218.14V225.28M164.56 218.14H166.96M164.56 225.28H166.96M170.68 218.14V225.28M169.48 218.14H171.88M169.48 225.28H171.88M173.96 218.14V225.28M172.76 218.14H175.16M172.76 225.28H175.16M177.24 218.14V225.28M176.04 218.14H178.44M176.04 225.28H178.44M182.16 218.14V225.28M180.96 218.14H183.36M180.96 225.28H183.36M185.44 218.14V225.28M184.24 218.14H186.64M184.24 225.28H186.64" stroke="#262626" stroke-width="0.85" fill="none"/><path d="M32.92 301.23V310.99M31.72 301.23H34.12M31.72 310.99H34.12M36.2 289.63V303.57M35 289.63H37.4M35 303.57H37.4M39.48 276.09V294.92M38.28 276.09H40.68M38.28 294.92H40.68M44.4 253.54V280.49M43.2 253.54H45.6M43.2 280.49H45.6M47.68 241.92V268.86M46.48 241.92H48.88M46.48 268.86H48.88M50.96 231.62V258.56M49.76 231.62H52.16M49.76 258.56H52.16M55.88 223.03V249.97M54.68 223.03H57.08M54.68 249.97H57.08M59.16 228.05V235.97M57.96 228.05H60.36M57.96 235.97H60.36M62.44 228.05V235.97M61.24 228.05H63.64M61.24 235.97H63.64M67.36 228.05V235.97M66.16 228.05H68.56M66.16 235.97H68.56M70.64 228.05V235.97M69.44 228.05H71.84M69.44 235.97H71.84M73.92 228.05V235.97M72.72 228.05H75.12M72.72 235.97H75.12M78.84 228.05V235.97M77.64 228.05H80.04M77.64 235.97H80.04M82.12 228.05V235.97M80.92 228.05H83.32M80.92 235.97H83.32M85.4 228.05V235.97M84.2 228.05H86.6M84.2 235.97H86.6M90.32 228.05V235.97M89.12 228.05H91.52M89.12 235.97H91.52M93.6 228.05V235.97M92.4 228.05H94.8M92.4 235.97H94.8M96.88 228.05V235.97M95.68 228.05H98.08M95.68 235.97H98.08M101.8 228.05V235.97M100.6 228.05H103M100.6 235.97H103M105.08 228.05V235.97M103.88 228.05H106.28M103.88 235.97H106.28M108.36 228.05V235.97M107.16 228.05H109.56M107.16 235.97H109.56M113.28 228.05V235.97M112.08 228.05H114.48M112.08 235.97H114.48M116.56 228.05V235.97M115.36 228.05H117.76M115.36 235.97H117.76M119.84 228.05V235.97M118.64 228.05H121.04M118.64 235.97H121.04M124.76 228.05V235.97M123.56 228.05H125.96M123.56 235.97H125.96M128.04 228.05V235.97M126.84 228.05H129.24M126.84 235.97H129.24M131.32 228.05V235.97M130.12 228.05H132.52M130.12 235.97H132.52M136.24 228.05V235.97M135.04 228.05H137.44M135.04 235.97H137.44M139.52 228.05V235.97M138.32 228.05H140.72M138.32 235.97H140.72M142.8 228.05V235.97M141.6 228.05H144M141.6 235.97H144M147.72 228.05V235.97M146.52 228.05H148.92M146.52 235.97H148.92M151 228.05V235.97M149.8 228.05H152.2M149.8 235.97H152.2M154.28 228.05V235.97M153.08 228.05H155.48M153.08 235.97H155.48M159.2 228.05V235.97M158 228.05H160.4M158 235.97H160.4M162.48 228.05V235.97M161.28 228.05H163.68M161.28 235.97H163.68M165.76 228.05V235.97M164.56 228.05H166.96M164.56 235.97H166.96M170.68 228.05V235.97M169.48 228.05H171.88M169.48 235.97H171.88M173.96 228.05V235.97M172.76 228.05H175.16M172.76 235.97H175.16M177.24 228.05V235.97M176.04 228.05H178.44M176.04 235.97H178.44M182.16 228.05V235.97M180.96 228.05H183.36M180.96 235.97H183.36M185.44 228.05V235.97M184.24 228.05H186.64M184.24 235.97H186.64" stroke="#262626" stroke-width="0.85" fill="none"/><path d="M32.92 305.52V314.63M31.72 305.52H34.12M31.72 314.63H34.12M36.2 301.55V312.25M35 301.55H37.4M35 312.25H37.4M39.48 296.6V309.28M38.28 296.6H40.68M38.28 309.28H40.68M44.4 285.37V302.54M43.2 285.37H45.6M43.2 302.54H45.6M47.68 274.81V296.2M46.48 274.81H48.88M46.48 296.2H48.88M50.96 258.96V286.69M49.76 258.96H52.16M49.76 286.69H52.16M55.88 243.11V274.81M54.68 243.11H57.08M54.68 274.81H57.08M59.16 241.52V273.22M57.96 241.52H60.36M57.96 273.22H60.36M62.44 235.18V266.88M61.24 235.18H63.64M61.24 266.88H63.64M67.36 237.56V269.26M66.16 237.56H68.56M66.16 269.26H68.56M70.64 235.42V267.12M69.44 235.42H71.84M69.44 267.12H71.84M73.92 233.36V265.06M72.72 233.36H75.12M72.72 265.06H75.12M78.84 228.05V259.75M77.64 228.05H80.04M77.64 259.75H80.04M82.12 224.06V255.76M80.92 224.06H83.32M80.92 255.76H83.32M85.4 219.73V251.43M84.2 219.73H86.6M84.2 251.43H86.6M90.32 214.97V246.67M89.12 214.97H91.52M89.12 246.67H91.52M93.6 221.95V234.63M92.4 221.95H94.8M92.4 234.63H94.8M96.88 221.95V234.63M95.68 221.95H98.08M95.68 234.63H98.08M101.8 221.95V234.63M100.6 221.95H103M100.6 234.63H103M105.08 221.95V234.63M103.88 221.95H106.28M103.88 234.63H106.28M108.36 221.95V234.63M107.16 221.95H109.56M107.16 234.63H109.56M113.28 221.95V234.63M112.08 221.95H114.48M112.08 234.63H114.48M116.56 221.95V234.63M115.36 221.95H117.76M115.36 234.63H117.76M119.84 221.95V234.63M118.64 221.95H121.04M118.64 234.63H121.04M124.76 221.95V234.63M123.56 221.95H125.96M123.56 234.63H125.96M128.04 221.95V234.63M126.84 221.95H129.24M126.84 234.63H129.24M131.32 221.95V234.63M130.12 221.95H132.52M130.12 234.63H132.52M136.24 221.95V234.63M135.04 221.95H137.44M135.04 234.63H137.44M139.52 221.95V234.63M138.32 221.95H140.72M138.32 234.63H140.72M142.8 221.95V234.63M141.6 221.95H144M141.6 234.63H144M147.72 221.95V234.63M146.52 221.95H148.92M146.52 234.63H148.92M151 221.95V234.63M149.8 221.95H152.2M149.8 234.63H152.2M154.28 221.95V234.63M153.08 221.95H155.48M153.08 234.63H155.48M159.2 221.95V234.63M158 221.95H160.4M158 234.63H160.4M162.48 221.95V234.63M161.28 221.95H163.68M161.28 234.63H163.68M165.76 221.95V234.63M164.56 221.95H166.96M164.56 234.63H166.96M170.68 221.95V234.63M169.48 221.95H171.88M169.48 234.63H171.88M173.96 221.95V234.63M172.76 221.95H175.16M172.76 234.63H175.16M177.24 221.95V234.63M176.04 221.95H178.44M176.04 234.63H178.44M182.16 221.95V234.63M180.96 221.95H183.36M180.96 234.63H183.36M185.44 221.95V234.63M184.24 221.95H186.64M184.24 234.63H186.64" stroke="#262626" stroke-width="0.85" fill="none"/><path d="M32.92 304.13V312.85M31.72 304.13H34.12M31.72 312.85H34.12M36.2 295.75V307.49M35 295.75H37.4M35 307.49H37.4M39.48 284.47V300.28M38.28 284.47H40.68M38.28 300.28H40.68M44.4 263.84V287.09M43.2 263.84H45.6M43.2 287.09H45.6M47.68 253.01V276.79M46.48 253.01H48.88M46.48 276.79H48.88M50.96 242.71V266.49M49.76 242.71H52.16M49.76 266.49H52.16M55.88 230.82V254.6M54.68 230.82H57.08M54.68 254.6H57.08M59.16 239.3V242.16M57.96 239.3H60.36M57.96 242.16H60.36M62.44 239.3V242.16M61.24 239.3H63.64M61.24 242.16H63.64M67.36 239.3V242.16M66.16 239.3H68.56M66.16 242.16H68.56M70.64 239.3V242.16M69.44 239.3H71.84M69.44 242.16H71.84M73.92 239.3V242.16M72.72 239.3H75.12M72.72 242.16H75.12M78.84 239.3V242.16M77.64 239.3H80.04M77.64 242.16H80.04M82.12 239.3V242.16M80.92 239.3H83.32M80.92 242.16H83.32M85.4 239.3V242.16M84.2 239.3H86.6M84.2 242.16H86.6M90.32 239.3V242.16M89.12 239.3H91.52M89.12 242.16H91.52M93.6 239.3V242.16M92.4 239.3H94.8M92.4 242.16H94.8M96.88 239.3V242.16M95.68 239.3H98.08M95.68 242.16H98.08M101.8 239.3V242.16M100.6 239.3H103M100.6 242.16H103M105.08 239.3V242.16M103.88 239.3H106.28M103.88 242.16H106.28M108.36 239.3V242.16M107.16 239.3H109.56M107.16 242.16H109.56M113.28 239.3V242.16M112.08 239.3H114.48M112.08 242.16H114.48M116.56 239.3V242.16M115.36 239.3H117.76M115.36 242.16H117.76M119.84 239.3V242.16M118.64 239.3H121.04M118.64 242.16H121.04M124.76 239.3V242.16M123.56 239.3H125.96M123.56 242.16H125.96M128.04 239.3V242.16M126.84 239.3H129.24M126.84 242.16H129.24M131.32 239.3V242.16M130.12 239.3H132.52M130.12 242.16H132.52M136.24 239.3V242.16M135.04 239.3H137.44M135.04 242.16H137.44M139.52 239.3V242.16M138.32 239.3H140.72M138.32 242.16H140.72M142.8 239.3V242.16M141.6 239.3H144M141.6 242.16H144M147.72 239.3V242.16M146.52 239.3H148.92M146.52 242.16H148.92M151 239.3V242.16M149.8 239.3H152.2M149.8 242.16H152.2M154.28 239.3V242.16M153.08 239.3H155.48M153.08 242.16H155.48M159.2 239.3V242.16M158 239.3H160.4M158 242.16H160.4M162.48 239.3V242.16M161.28 239.3H163.68M161.28 242.16H163.68M165.76 239.3V242.16M164.56 239.3H166.96M164.56 242.16H166.96M170.68 239.3V242.16M169.48 239.3H171.88M169.48 242.16H171.88M173.96 239.3V242.16M172.76 239.3H175.16M172.76 242.16H175.16M177.24 239.3V242.16M176.04 239.3H178.44M176.04 242.16H178.44M182.16 239.3V242.16M180.96 239.3H183.36M180.96 242.16H183.36M185.44 239.3V242.16M184.24 239.3H186.64M184.24 242.16H186.64" stroke="#262626" stroke-width="0.85" fill="none"/><path d="M32.92 311.66V313.24M31.72 311.66H34.12M31.72 313.24H34.12M36.2 314.83V316.41M35 314.83H37.4M35 316.41H37.4M39.48 318.79V320.38M38.28 318.79H40.68M38.28 320.38H40.68M44.4 323.94V325.53M43.2 323.94H45.6M43.2 325.53H45.6M47.68 326.32V327.9M46.48 326.32H48.88M46.48 327.9H48.88M50.96 327.11V328.7M49.76 327.11H52.16M49.76 328.7H52.16M55.88 326.93V329.19M54.68 326.93H57.08M54.68 329.19H57.08M59.16 326.33V329.05M57.96 326.33H60.36M57.96 329.05H60.36M62.44 325.29V328.46M61.24 325.29H63.64M61.24 328.46H63.64M67.36 321.87V328.21M66.16 321.87H68.56M66.16 328.21H68.56M70.64 319.94V327.86M69.44 319.94H71.84M69.44 327.86H71.84M73.92 318.01V327.52M72.72 318.01H75.12M72.72 327.52H75.12M78.84 314.72V327.4M77.64 314.72H80.04M77.64 327.4H80.04M82.12 312V327.85M80.92 312H83.32M80.92 327.85H83.32M85.4 310.07V327.51M84.2 310.07H86.6M84.2 327.51H86.6M90.32 307.03V327.63M89.12 307.03H91.52M89.12 327.63H91.52M93.6 304.47V328.24M92.4 304.47H94.8M92.4 328.24H94.8M96.88 302.07V328.7M95.68 302.07H98.08M95.68 328.7H98.08M101.8 301.25V327.9M100.6 301.25H103M100.6 327.9H103M105.08 300.71V327.36M103.88 300.71H106.28M103.88 327.36H106.28M108.36 300.71V327.37M107.16 300.71H109.56M107.16 327.37H109.56M113.28 300.71V327.39M112.08 300.71H114.48M112.08 327.39H114.48M116.56 300.71V327.4M115.36 300.71H117.76M115.36 327.4H117.76M119.84 300.71V327.41M118.64 300.71H121.04M118.64 327.41H121.04M124.76 300.71V327.43M123.56 300.71H125.96M123.56 327.43H125.96M128.04 300.71V327.44M126.84 300.71H129.24M126.84 327.44H129.24M131.32 300.71V327.45M130.12 300.71H132.52M130.12 327.45H132.52M136.24 300.71V327.47M135.04 300.71H137.44M135.04 327.47H137.44M139.52 300.71V327.48M138.32 300.71H140.72M138.32 327.48H140.72M142.8 300.71V327.49M141.6 300.71H144M141.6 327.49H144M147.72 300.71V327.51M146.52 300.71H148.92M146.52 327.51H148.92M151 300.71V327.52M149.8 300.71H152.2M149.8 327.52H152.2M154.28 300.72V327.53M153.08 300.72H155.48M153.08 327.53H155.48M159.2 300.72V327.55M158 300.72H160.4M158 327.55H160.4M162.48 300.72V327.56M161.28 300.72H163.68M161.28 327.56H163.68M165.76 300.72V327.57M164.56 300.72H166.96M164.56 327.57H166.96M170.68 300.72V327.59M169.48 300.72H171.88M169.48 327.59H171.88M173.96 300.72V327.6M172.76 300.72H175.16M172.76 327.6H175.16M177.24 300.72V327.61M176.04 300.72H178.44M176.04 327.61H178.44M182.16 300.72V327.63M180.96 300.72H183.36M180.96 327.63H183.36M185.44 300.72V327.64M184.24 300.72H186.64M184.24 327.64H186.64" stroke="#555" stroke-width="0.8" fill="none"/><polyline points="28,312.45 32.92,308.49 36.2,301.62 39.48,292.37 44.4,275.47 47.68,264.9 50.96,254.6 55.88,242.71 59.16,240.73 62.44,240.73 67.36,240.73 70.64,240.73 73.92,240.73 78.84,240.73 82.12,240.73 85.4,240.73 90.32,240.73 93.6,240.73 96.88,240.73 101.8,240.73 105.08,240.73 108.36,240.73 113.28,240.73 116.56,240.73 119.84,240.73 124.76,240.73 128.04,240.73 131.32,240.73 136.24,240.73 139.52,240.73 142.8,240.73 147.72,240.73 151,240.73 154.28,240.73 159.2,240.73 162.48,240.73 165.76,240.73 170.68,240.73 173.96,240.73 177.24,240.73 182.16,240.73 185.44,240.73" stroke="#e020d8" stroke-width="1.5" fill="none" stroke-linejoin="round"/><path d="M28 310.35L30.1 312.45L28 314.55L25.9 312.45Z" fill="#e020d8"/><path d="M32.92 306.39L35.02 308.49L32.92 310.59L30.82 308.49Z" fill="#e020d8"/><path d="M36.2 299.52L38.3 301.62L36.2 303.72L34.1 301.62Z" fill="#e020d8"/><path d="M39.48 290.27L41.58 292.37L39.48 294.47L37.38 292.37Z" fill="#e020d8"/><path d="M44.4 273.37L46.5 275.47L44.4 277.57L42.3 275.47Z" fill="#e020d8"/><path d="M47.68 262.8L49.78 264.9L47.68 267L45.58 264.9Z" fill="#e020d8"/><path d="M50.96 252.5L53.06 254.6L50.96 256.7L48.86 254.6Z" fill="#e020d8"/><path d="M55.88 240.61L57.98 242.71L55.88 244.81L53.78 242.71Z" fill="#e020d8"/><path d="M59.16 238.63L61.26 240.73L59.16 242.83L57.06 240.73Z" fill="#e020d8"/><path d="M62.44 238.63L64.54 240.73L62.44 242.83L60.34 240.73Z" fill="#e020d8"/><path d="M67.36 238.63L69.46 240.73L67.36 242.83L65.26 240.73Z" fill="#e020d8"/><path d="M70.64 238.63L72.74 240.73L70.64 242.83L68.54 240.73Z" fill="#e020d8"/><path d="M73.92 238.63L76.02 240.73L73.92 242.83L71.82 240.73Z" fill="#e020d8"/><path d="M78.84 238.63L80.94 240.73L78.84 242.83L76.74 240.73Z" fill="#e020d8"/><path d="M82.12 238.63L84.22 240.73L82.12 242.83L80.02 240.73Z" fill="#e020d8"/><path d="M85.4 238.63L87.5 240.73L85.4 242.83L83.3 240.73Z" fill="#e020d8"/><path d="M90.32 238.63L92.42 240.73L90.32 242.83L88.22 240.73Z" fill="#e020d8"/><path d="M93.6 238.63L95.7 240.73L93.6 242.83L91.5 240.73Z" fill="#e020d8"/><path d="M96.88 238.63L98.98 240.73L96.88 242.83L94.78 240.73Z" fill="#e020d8"/><path d="M101.8 238.63L103.9 240.73L101.8 242.83L99.7 240.73Z" fill="#e020d8"/><path d="M105.08 238.63L107.18 240.73L105.08 242.83L102.98 240.73Z" fill="#e020d8"/><path d="M108.36 238.63L110.46 240.73L108.36 242.83L106.26 240.73Z" fill="#e020d8"/><path d="M113.28 238.63L115.38 240.73L113.28 242.83L111.18 240.73Z" fill="#e020d8"/><path d="M116.56 238.63L118.66 240.73L116.56 242.83L114.46 240.73Z" fill="#e020d8"/><path d="M119.84 238.63L121.94 240.73L119.84 242.83L117.74 240.73Z" fill="#e020d8"/><path d="M124.76 238.63L126.86 240.73L124.76 242.83L122.66 240.73Z" fill="#e020d8"/><path d="M128.04 238.63L130.14 240.73L128.04 242.83L125.94 240.73Z" fill="#e020d8"/><path d="M131.32 238.63L133.42 240.73L131.32 242.83L129.22 240.73Z" fill="#e020d8"/><path d="M136.24 238.63L138.34 240.73L136.24 242.83L134.14 240.73Z" fill="#e020d8"/><path d="M139.52 238.63L141.62 240.73L139.52 242.83L137.42 240.73Z" fill="#e020d8"/><path d="M142.8 238.63L144.9 240.73L142.8 242.83L140.7 240.73Z" fill="#e020d8"/><path d="M147.72 238.63L149.82 240.73L147.72 242.83L145.62 240.73Z" fill="#e020d8"/><path d="M151 238.63L153.1 240.73L151 242.83L148.9 240.73Z" fill="#e020d8"/><path d="M154.28 238.63L156.38 240.73L154.28 242.83L152.18 240.73Z" fill="#e020d8"/><path d="M159.2 238.63L161.3 240.73L159.2 242.83L157.1 240.73Z" fill="#e020d8"/><path d="M162.48 238.63L164.58 240.73L162.48 242.83L160.38 240.73Z" fill="#e020d8"/><path d="M165.76 238.63L167.86 240.73L165.76 242.83L163.66 240.73Z" fill="#e020d8"/><path d="M170.68 238.63L172.78 240.73L170.68 242.83L168.58 240.73Z" fill="#e020d8"/><path d="M173.96 238.63L176.06 240.73L173.96 242.83L171.86 240.73Z" fill="#e020d8"/><path d="M177.24 238.63L179.34 240.73L177.24 242.83L175.14 240.73Z" fill="#e020d8"/><path d="M182.16 238.63L184.26 240.73L182.16 242.83L180.06 240.73Z" fill="#e020d8"/><path d="M185.44 238.63L187.54 240.73L185.44 242.83L183.34 240.73Z" fill="#e020d8"/><polyline points="28,312.45 32.92,306.11 36.2,296.6 39.48,285.5 44.4,267.01 47.68,255.39 50.96,245.09 55.88,236.5 59.16,232.01 62.44,232.01 67.36,232.01 70.64,232.01 73.92,232.01 78.84,232.01 82.12,232.01 85.4,232.01 90.32,232.01 93.6,232.01 96.88,232.01 101.8,232.01 105.08,232.01 108.36,232.01 113.28,232.01 116.56,232.01 119.84,232.01 124.76,232.01 128.04,232.01 131.32,232.01 136.24,232.01 139.52,232.01 142.8,232.01 147.72,232.01 151,232.01 154.28,232.01 159.2,232.01 162.48,232.01 165.76,232.01 170.68,232.01 173.96,232.01 177.24,232.01 182.16,232.01 185.44,232.01" stroke="#14946a" stroke-width="1.5" fill="none" stroke-linejoin="round"/><path d="M28 310.35L30.1 312.45L28 314.55L25.9 312.45Z" fill="#14946a"/><path d="M32.92 304.01L35.02 306.11L32.92 308.21L30.82 306.11Z" fill="#14946a"/><path d="M36.2 294.5L38.3 296.6L36.2 298.7L34.1 296.6Z" fill="#14946a"/><path d="M39.48 283.4L41.58 285.5L39.48 287.61L37.38 285.5Z" fill="#14946a"/><path d="M44.4 264.91L46.5 267.01L44.4 269.11L42.3 267.01Z" fill="#14946a"/><path d="M47.68 253.29L49.78 255.39L47.68 257.49L45.58 255.39Z" fill="#14946a"/><path d="M50.96 242.99L53.06 245.09L50.96 247.19L48.86 245.09Z" fill="#14946a"/><path d="M55.88 234.4L57.98 236.5L55.88 238.6L53.78 236.5Z" fill="#14946a"/><path d="M59.16 229.91L61.26 232.01L59.16 234.11L57.06 232.01Z" fill="#14946a"/><path d="M62.44 229.91L64.54 232.01L62.44 234.11L60.34 232.01Z" fill="#14946a"/><path d="M67.36 229.91L69.46 232.01L67.36 234.11L65.26 232.01Z" fill="#14946a"/><path d="M70.64 229.91L72.74 232.01L70.64 234.11L68.54 232.01Z" fill="#14946a"/><path d="M73.92 229.91L76.02 232.01L73.92 234.11L71.82 232.01Z" fill="#14946a"/><path d="M78.84 229.91L80.94 232.01L78.84 234.11L76.74 232.01Z" fill="#14946a"/><path d="M82.12 229.91L84.22 232.01L82.12 234.11L80.02 232.01Z" fill="#14946a"/><path d="M85.4 229.91L87.5 232.01L85.4 234.11L83.3 232.01Z" fill="#14946a"/><path d="M90.32 229.91L92.42 232.01L90.32 234.11L88.22 232.01Z" fill="#14946a"/><path d="M93.6 229.91L95.7 232.01L93.6 234.11L91.5 232.01Z" fill="#14946a"/><path d="M96.88 229.91L98.98 232.01L96.88 234.11L94.78 232.01Z" fill="#14946a"/><path d="M101.8 229.91L103.9 232.01L101.8 234.11L99.7 232.01Z" fill="#14946a"/><path d="M105.08 229.91L107.18 232.01L105.08 234.11L102.98 232.01Z" fill="#14946a"/><path d="M108.36 229.91L110.46 232.01L108.36 234.11L106.26 232.01Z" fill="#14946a"/><path d="M113.28 229.91L115.38 232.01L113.28 234.11L111.18 232.01Z" fill="#14946a"/><path d="M116.56 229.91L118.66 232.01L116.56 234.11L114.46 232.01Z" fill="#14946a"/><path d="M119.84 229.91L121.94 232.01L119.84 234.11L117.74 232.01Z" fill="#14946a"/><path d="M124.76 229.91L126.86 232.01L124.76 234.11L122.66 232.01Z" fill="#14946a"/><path d="M128.04 229.91L130.14 232.01L128.04 234.11L125.94 232.01Z" fill="#14946a"/><path d="M131.32 229.91L133.42 232.01L131.32 234.11L129.22 232.01Z" fill="#14946a"/><path d="M136.24 229.91L138.34 232.01L136.24 234.11L134.14 232.01Z" fill="#14946a"/><path d="M139.52 229.91L141.62 232.01L139.52 234.11L137.42 232.01Z" fill="#14946a"/><path d="M142.8 229.91L144.9 232.01L142.8 234.11L140.7 232.01Z" fill="#14946a"/><path d="M147.72 229.91L149.82 232.01L147.72 234.11L145.62 232.01Z" fill="#14946a"/><path d="M151 229.91L153.1 232.01L151 234.11L148.9 232.01Z" fill="#14946a"/><path d="M154.28 229.91L156.38 232.01L154.28 234.11L152.18 232.01Z" fill="#14946a"/><path d="M159.2 229.91L161.3 232.01L159.2 234.11L157.1 232.01Z" fill="#14946a"/><path d="M162.48 229.91L164.58 232.01L162.48 234.11L160.38 232.01Z" fill="#14946a"/><path d="M165.76 229.91L167.86 232.01L165.76 234.11L163.66 232.01Z" fill="#14946a"/><path d="M170.68 229.91L172.78 232.01L170.68 234.11L168.58 232.01Z" fill="#14946a"/><path d="M173.96 229.91L176.06 232.01L173.96 234.11L171.86 232.01Z" fill="#14946a"/><path d="M177.24 229.91L179.34 232.01L177.24 234.11L175.14 232.01Z" fill="#14946a"/><path d="M182.16 229.91L184.26 232.01L182.16 234.11L180.06 232.01Z" fill="#14946a"/><path d="M185.44 229.91L187.54 232.01L185.44 234.11L183.34 232.01Z" fill="#14946a"/><polyline points="28,312.45 32.92,290.66 36.2,273.09 39.48,260.94 44.4,245.09 47.68,237.16 50.96,230.69 55.88,225.67 59.16,225.67 62.44,225.67 67.36,225.67 70.64,225.67 73.92,225.67 78.84,225.67 82.12,225.67 85.4,225.67 90.32,225.67 93.6,225.67 96.88,225.67 101.8,225.67 105.08,225.67 108.36,225.67 113.28,225.67 116.56,225.67 119.84,225.67 124.76,225.67 128.04,225.67 131.32,225.67 136.24,225.67 139.52,225.67 142.8,225.67 147.72,225.67 151,225.67 154.28,225.67 159.2,225.67 162.48,225.67 165.76,225.67 170.68,225.67 173.96,225.67 177.24,225.67 182.16,225.67 185.44,225.67" stroke="#a8183e" stroke-width="1.5" fill="none" stroke-linejoin="round"/><circle cx="28" cy="312.45" r="1.8" fill="#a8183e"/><circle cx="32.92" cy="290.66" r="1.8" fill="#a8183e"/><circle cx="36.2" cy="273.09" r="1.8" fill="#a8183e"/><circle cx="39.48" cy="260.94" r="1.8" fill="#a8183e"/><circle cx="44.4" cy="245.09" r="1.8" fill="#a8183e"/><circle cx="47.68" cy="237.16" r="1.8" fill="#a8183e"/><circle cx="50.96" cy="230.69" r="1.8" fill="#a8183e"/><circle cx="55.88" cy="225.67" r="1.8" fill="#a8183e"/><circle cx="59.16" cy="225.67" r="1.8" fill="#a8183e"/><circle cx="62.44" cy="225.67" r="1.8" fill="#a8183e"/><circle cx="67.36" cy="225.67" r="1.8" fill="#a8183e"/><circle cx="70.64" cy="225.67" r="1.8" fill="#a8183e"/><circle cx="73.92" cy="225.67" r="1.8" fill="#a8183e"/><circle cx="78.84" cy="225.67" r="1.8" fill="#a8183e"/><circle cx="82.12" cy="225.67" r="1.8" fill="#a8183e"/><circle cx="85.4" cy="225.67" r="1.8" fill="#a8183e"/><circle cx="90.32" cy="225.67" r="1.8" fill="#a8183e"/><circle cx="93.6" cy="225.67" r="1.8" fill="#a8183e"/><circle cx="96.88" cy="225.67" r="1.8" fill="#a8183e"/><circle cx="101.8" cy="225.67" r="1.8" fill="#a8183e"/><circle cx="105.08" cy="225.67" r="1.8" fill="#a8183e"/><circle cx="108.36" cy="225.67" r="1.8" fill="#a8183e"/><circle cx="113.28" cy="225.67" r="1.8" fill="#a8183e"/><circle cx="116.56" cy="225.67" r="1.8" fill="#a8183e"/><circle cx="119.84" cy="225.67" r="1.8" fill="#a8183e"/><circle cx="124.76" cy="225.67" r="1.8" fill="#a8183e"/><circle cx="128.04" cy="225.67" r="1.8" fill="#a8183e"/><circle cx="131.32" cy="225.67" r="1.8" fill="#a8183e"/><circle cx="136.24" cy="225.67" r="1.8" fill="#a8183e"/><circle cx="139.52" cy="225.67" r="1.8" fill="#a8183e"/><circle cx="142.8" cy="225.67" r="1.8" fill="#a8183e"/><circle cx="147.72" cy="225.67" r="1.8" fill="#a8183e"/><circle cx="151" cy="225.67" r="1.8" fill="#a8183e"/><circle cx="154.28" cy="225.67" r="1.8" fill="#a8183e"/><circle cx="159.2" cy="225.67" r="1.8" fill="#a8183e"/><circle cx="162.48" cy="225.67" r="1.8" fill="#a8183e"/><circle cx="165.76" cy="225.67" r="1.8" fill="#a8183e"/><circle cx="170.68" cy="225.67" r="1.8" fill="#a8183e"/><circle cx="173.96" cy="225.67" r="1.8" fill="#a8183e"/><circle cx="177.24" cy="225.67" r="1.8" fill="#a8183e"/><circle cx="182.16" cy="225.67" r="1.8" fill="#a8183e"/><circle cx="185.44" cy="225.67" r="1.8" fill="#a8183e"/><polyline points="28,312.45 32.92,310.07 36.2,306.9 39.48,302.94 44.4,293.96 47.68,285.5 50.96,272.82 55.88,258.96 59.16,257.37 62.44,251.03 67.36,253.41 70.64,251.27 73.92,249.21 78.84,243.9 82.12,239.91 85.4,235.58 90.32,230.82 93.6,228.29 96.88,228.29 101.8,228.29 105.08,228.29 108.36,228.29 113.28,228.29 116.56,228.29 119.84,228.29 124.76,228.29 128.04,228.29 131.32,228.29 136.24,228.29 139.52,228.29 142.8,228.29 147.72,228.29 151,228.29 154.28,228.29 159.2,228.29 162.48,228.29 165.76,228.29 170.68,228.29 173.96,228.29 177.24,228.29 182.16,228.29 185.44,228.29" stroke="#1a2a6c" stroke-width="1.5" fill="none" stroke-linejoin="round"/><path d="M28 310.35L30.1 312.45L28 314.55L25.9 312.45Z" fill="#1a2a6c"/><path d="M32.92 307.97L35.02 310.07L32.92 312.17L30.82 310.07Z" fill="#1a2a6c"/><path d="M36.2 304.8L38.3 306.9L36.2 309L34.1 306.9Z" fill="#1a2a6c"/><path d="M39.48 300.84L41.58 302.94L39.48 305.04L37.38 302.94Z" fill="#1a2a6c"/><path d="M44.4 291.86L46.5 293.96L44.4 296.06L42.3 293.96Z" fill="#1a2a6c"/><path d="M47.68 283.4L49.78 285.5L47.68 287.61L45.58 285.5Z" fill="#1a2a6c"/><path d="M50.96 270.72L53.06 272.82L50.96 274.93L48.86 272.82Z" fill="#1a2a6c"/><path d="M55.88 256.86L57.98 258.96L55.88 261.06L53.78 258.96Z" fill="#1a2a6c"/><path d="M59.16 255.27L61.26 257.37L59.16 259.47L57.06 257.37Z" fill="#1a2a6c"/><path d="M62.44 248.93L64.54 251.03L62.44 253.13L60.34 251.03Z" fill="#1a2a6c"/><path d="M67.36 251.31L69.46 253.41L67.36 255.51L65.26 253.41Z" fill="#1a2a6c"/><path d="M70.64 249.17L72.74 251.27L70.64 253.37L68.54 251.27Z" fill="#1a2a6c"/><path d="M73.92 247.11L76.02 249.21L73.92 251.31L71.82 249.21Z" fill="#1a2a6c"/><path d="M78.84 241.8L80.94 243.9L78.84 246L76.74 243.9Z" fill="#1a2a6c"/><path d="M82.12 237.81L84.22 239.91L82.12 242.01L80.02 239.91Z" fill="#1a2a6c"/><path d="M85.4 233.48L87.5 235.58L85.4 237.68L83.3 235.58Z" fill="#1a2a6c"/><path d="M90.32 228.72L92.42 230.82L90.32 232.92L88.22 230.82Z" fill="#1a2a6c"/><path d="M93.6 226.19L95.7 228.29L93.6 230.39L91.5 228.29Z" fill="#1a2a6c"/><path d="M96.88 226.19L98.98 228.29L96.88 230.39L94.78 228.29Z" fill="#1a2a6c"/><path d="M101.8 226.19L103.9 228.29L101.8 230.39L99.7 228.29Z" fill="#1a2a6c"/><path d="M105.08 226.19L107.18 228.29L105.08 230.39L102.98 228.29Z" fill="#1a2a6c"/><path d="M108.36 226.19L110.46 228.29L108.36 230.39L106.26 228.29Z" fill="#1a2a6c"/><path d="M113.28 226.19L115.38 228.29L113.28 230.39L111.18 228.29Z" fill="#1a2a6c"/><path d="M116.56 226.19L118.66 228.29L116.56 230.39L114.46 228.29Z" fill="#1a2a6c"/><path d="M119.84 226.19L121.94 228.29L119.84 230.39L117.74 228.29Z" fill="#1a2a6c"/><path d="M124.76 226.19L126.86 228.29L124.76 230.39L122.66 228.29Z" fill="#1a2a6c"/><path d="M128.04 226.19L130.14 228.29L128.04 230.39L125.94 228.29Z" fill="#1a2a6c"/><path d="M131.32 226.19L133.42 228.29L131.32 230.39L129.22 228.29Z" fill="#1a2a6c"/><path d="M136.24 226.19L138.34 228.29L136.24 230.39L134.14 228.29Z" fill="#1a2a6c"/><path d="M139.52 226.19L141.62 228.29L139.52 230.39L137.42 228.29Z" fill="#1a2a6c"/><path d="M142.8 226.19L144.9 228.29L142.8 230.39L140.7 228.29Z" fill="#1a2a6c"/><path d="M147.72 226.19L149.82 228.29L147.72 230.39L145.62 228.29Z" fill="#1a2a6c"/><path d="M151 226.19L153.1 228.29L151 230.39L148.9 228.29Z" fill="#1a2a6c"/><path d="M154.28 226.19L156.38 228.29L154.28 230.39L152.18 228.29Z" fill="#1a2a6c"/><path d="M159.2 226.19L161.3 228.29L159.2 230.39L157.1 228.29Z" fill="#1a2a6c"/><path d="M162.48 226.19L164.58 228.29L162.48 230.39L160.38 228.29Z" fill="#1a2a6c"/><path d="M165.76 226.19L167.86 228.29L165.76 230.39L163.66 228.29Z" fill="#1a2a6c"/><path d="M170.68 226.19L172.78 228.29L170.68 230.39L168.58 228.29Z" fill="#1a2a6c"/><path d="M173.96 226.19L176.06 228.29L173.96 230.39L171.86 228.29Z" fill="#1a2a6c"/><path d="M177.24 226.19L179.34 228.29L177.24 230.39L175.14 228.29Z" fill="#1a2a6c"/><path d="M182.16 226.19L184.26 228.29L182.16 230.39L180.06 228.29Z" fill="#1a2a6c"/><path d="M185.44 226.19L187.54 228.29L185.44 230.39L183.34 228.29Z" fill="#1a2a6c"/><polyline points="28,312.45 32.92,305.32 36.2,295.28 39.48,283.92 44.4,265.16 47.68,253.01 50.96,242.71 55.88,232.01 59.16,226.07 62.44,222.7 67.36,221.71 70.64,221.71 73.92,221.71 78.84,221.71 82.12,221.71 85.4,221.71 90.32,221.71 93.6,221.71 96.88,221.71 101.8,221.71 105.08,221.71 108.36,221.71 113.28,221.71 116.56,221.71 119.84,221.71 124.76,221.71 128.04,221.71 131.32,221.71 136.24,221.71 139.52,221.71 142.8,221.71 147.72,221.71 151,221.71 154.28,221.71 159.2,221.71 162.48,221.71 165.76,221.71 170.68,221.71 173.96,221.71 177.24,221.71 182.16,221.71 185.44,221.71" stroke="#33e08c" stroke-width="1.5" fill="none" stroke-linejoin="round"/><rect x="25.48" y="311.19" width="5.04" height="2.52" fill="#33e08c"/><rect x="30.4" y="304.06" width="5.04" height="2.52" fill="#33e08c"/><rect x="33.68" y="294.02" width="5.04" height="2.52" fill="#33e08c"/><rect x="36.96" y="282.66" width="5.04" height="2.52" fill="#33e08c"/><rect x="41.88" y="263.9" width="5.04" height="2.52" fill="#33e08c"/><rect x="45.16" y="251.75" width="5.04" height="2.52" fill="#33e08c"/><rect x="48.44" y="241.45" width="5.04" height="2.52" fill="#33e08c"/><rect x="53.36" y="230.75" width="5.04" height="2.52" fill="#33e08c"/><rect x="56.64" y="224.81" width="5.04" height="2.52" fill="#33e08c"/><rect x="59.92" y="221.44" width="5.04" height="2.52" fill="#33e08c"/><rect x="64.84" y="220.45" width="5.04" height="2.52" fill="#33e08c"/><rect x="68.12" y="220.45" width="5.04" height="2.52" fill="#33e08c"/><rect x="71.4" y="220.45" width="5.04" height="2.52" fill="#33e08c"/><rect x="76.32" y="220.45" width="5.04" height="2.52" fill="#33e08c"/><rect x="79.6" y="220.45" width="5.04" height="2.52" fill="#33e08c"/><rect x="82.88" y="220.45" width="5.04" height="2.52" fill="#33e08c"/><rect x="87.8" y="220.45" width="5.04" height="2.52" fill="#33e08c"/><rect x="91.08" y="220.45" width="5.04" height="2.52" fill="#33e08c"/><rect x="94.36" y="220.45" width="5.04" height="2.52" fill="#33e08c"/><rect x="99.28" y="220.45" width="5.04" height="2.52" fill="#33e08c"/><rect x="102.56" y="220.45" width="5.04" height="2.52" fill="#33e08c"/><rect x="105.84" y="220.45" width="5.04" height="2.52" fill="#33e08c"/><rect x="110.76" y="220.45" width="5.04" height="2.52" fill="#33e08c"/><rect x="114.04" y="220.45" width="5.04" height="2.52" fill="#33e08c"/><rect x="117.32" y="220.45" width="5.04" height="2.52" fill="#33e08c"/><rect x="122.24" y="220.45" width="5.04" height="2.52" fill="#33e08c"/><rect x="125.52" y="220.45" width="5.04" height="2.52" fill="#33e08c"/><rect x="128.8" y="220.45" width="5.04" height="2.52" fill="#33e08c"/><rect x="133.72" y="220.45" width="5.04" height="2.52" fill="#33e08c"/><rect x="137" y="220.45" width="5.04" height="2.52" fill="#33e08c"/><rect x="140.28" y="220.45" width="5.04" height="2.52" fill="#33e08c"/><rect x="145.2" y="220.45" width="5.04" height="2.52" fill="#33e08c"/><rect x="148.48" y="220.45" width="5.04" height="2.52" fill="#33e08c"/><rect x="151.76" y="220.45" width="5.04" height="2.52" fill="#33e08c"/><rect x="156.68" y="220.45" width="5.04" height="2.52" fill="#33e08c"/><rect x="159.96" y="220.45" width="5.04" height="2.52" fill="#33e08c"/><rect x="163.24" y="220.45" width="5.04" height="2.52" fill="#33e08c"/><rect x="168.16" y="220.45" width="5.04" height="2.52" fill="#33e08c"/><rect x="171.44" y="220.45" width="5.04" height="2.52" fill="#33e08c"/><rect x="174.72" y="220.45" width="5.04" height="2.52" fill="#33e08c"/><rect x="179.64" y="220.45" width="5.04" height="2.52" fill="#33e08c"/><rect x="182.92" y="220.45" width="5.04" height="2.52" fill="#33e08c"/><polyline points="28,312.45 32.92,308.49 36.2,300.56 39.48,290.79 44.4,273.09 47.68,260.94 50.96,250.37 55.88,238.75 59.16,227.65 62.44,222.1 67.36,222.09 70.64,222.08 73.92,222.07 78.84,222.05 82.12,222.04 85.4,222.03 90.32,222.02 93.6,222.01 96.88,222 101.8,221.98 105.08,221.97 108.36,221.96 113.28,221.95 116.56,221.94 119.84,221.93 124.76,221.91 128.04,221.9 131.32,221.89 136.24,221.88 139.52,221.87 142.8,221.86 147.72,221.84 151,221.83 154.28,221.82 159.2,221.81 162.48,221.8 165.76,221.79 170.68,221.77 173.96,221.76 177.24,221.75 182.16,221.74 185.44,221.73" stroke="#33b8e6" stroke-width="1.5" fill="none" stroke-linejoin="round"/><path d="M28 310.35L30.1 312.45L28 314.55L25.9 312.45Z" fill="#33b8e6"/><path d="M32.92 306.39L35.02 308.49L32.92 310.59L30.82 308.49Z" fill="#33b8e6"/><path d="M36.2 298.46L38.3 300.56L36.2 302.66L34.1 300.56Z" fill="#33b8e6"/><path d="M39.48 288.69L41.58 290.79L39.48 292.89L37.38 290.79Z" fill="#33b8e6"/><path d="M44.4 270.99L46.5 273.09L44.4 275.19L42.3 273.09Z" fill="#33b8e6"/><path d="M47.68 258.84L49.78 260.94L47.68 263.04L45.58 260.94Z" fill="#33b8e6"/><path d="M50.96 248.27L53.06 250.37L50.96 252.47L48.86 250.37Z" fill="#33b8e6"/><path d="M55.88 236.65L57.98 238.75L55.88 240.85L53.78 238.75Z" fill="#33b8e6"/><path d="M59.16 225.55L61.26 227.65L59.16 229.75L57.06 227.65Z" fill="#33b8e6"/><path d="M62.44 220L64.54 222.1L62.44 224.2L60.34 222.1Z" fill="#33b8e6"/><path d="M67.36 219.99L69.46 222.09L67.36 224.19L65.26 222.09Z" fill="#33b8e6"/><path d="M70.64 219.98L72.74 222.08L70.64 224.18L68.54 222.08Z" fill="#33b8e6"/><path d="M73.92 219.97L76.02 222.07L73.92 224.17L71.82 222.07Z" fill="#33b8e6"/><path d="M78.84 219.95L80.94 222.05L78.84 224.15L76.74 222.05Z" fill="#33b8e6"/><path d="M82.12 219.94L84.22 222.04L82.12 224.14L80.02 222.04Z" fill="#33b8e6"/><path d="M85.4 219.93L87.5 222.03L85.4 224.13L83.3 222.03Z" fill="#33b8e6"/><path d="M90.32 219.92L92.42 222.02L90.32 224.12L88.22 222.02Z" fill="#33b8e6"/><path d="M93.6 219.91L95.7 222.01L93.6 224.11L91.5 222.01Z" fill="#33b8e6"/><path d="M96.88 219.9L98.98 222L96.88 224.1L94.78 222Z" fill="#33b8e6"/><path d="M101.8 219.88L103.9 221.98L101.8 224.08L99.7 221.98Z" fill="#33b8e6"/><path d="M105.08 219.87L107.18 221.97L105.08 224.07L102.98 221.97Z" fill="#33b8e6"/><path d="M108.36 219.86L110.46 221.96L108.36 224.06L106.26 221.96Z" fill="#33b8e6"/><path d="M113.28 219.85L115.38 221.95L113.28 224.05L111.18 221.95Z" fill="#33b8e6"/><path d="M116.56 219.84L118.66 221.94L116.56 224.04L114.46 221.94Z" fill="#33b8e6"/><path d="M119.84 219.83L121.94 221.93L119.84 224.03L117.74 221.93Z" fill="#33b8e6"/><path d="M124.76 219.81L126.86 221.91L124.76 224.01L122.66 221.91Z" fill="#33b8e6"/><path d="M128.04 219.8L130.14 221.9L128.04 224L125.94 221.9Z" fill="#33b8e6"/><path d="M131.32 219.79L133.42 221.89L131.32 223.99L129.22 221.89Z" fill="#33b8e6"/><path d="M136.24 219.78L138.34 221.88L136.24 223.98L134.14 221.88Z" fill="#33b8e6"/><path d="M139.52 219.77L141.62 221.87L139.52 223.97L137.42 221.87Z" fill="#33b8e6"/><path d="M142.8 219.76L144.9 221.86L142.8 223.96L140.7 221.86Z" fill="#33b8e6"/><path d="M147.72 219.74L149.82 221.84L147.72 223.94L145.62 221.84Z" fill="#33b8e6"/><path d="M151 219.73L153.1 221.83L151 223.93L148.9 221.83Z" fill="#33b8e6"/><path d="M154.28 219.72L156.38 221.82L154.28 223.92L152.18 221.82Z" fill="#33b8e6"/><path d="M159.2 219.71L161.3 221.81L159.2 223.91L157.1 221.81Z" fill="#33b8e6"/><path d="M162.48 219.7L164.58 221.8L162.48 223.9L160.38 221.8Z" fill="#33b8e6"/><path d="M165.76 219.69L167.86 221.79L165.76 223.89L163.66 221.79Z" fill="#33b8e6"/><path d="M170.68 219.67L172.78 221.77L170.68 223.87L168.58 221.77Z" fill="#33b8e6"/><path d="M173.96 219.66L176.06 221.76L173.96 223.86L171.86 221.76Z" fill="#33b8e6"/><path d="M177.24 219.65L179.34 221.75L177.24 223.85L175.14 221.75Z" fill="#33b8e6"/><path d="M182.16 219.64L184.26 221.74L182.16 223.84L180.06 221.74Z" fill="#33b8e6"/><path d="M185.44 219.63L187.54 221.73L185.44 223.83L183.34 221.73Z" fill="#33b8e6"/><polyline points="28,312.45 32.92,312.45 36.2,315.62 39.48,319.58 44.4,324.73 47.68,327.11 50.96,327.9 55.88,328.06 59.16,327.69 62.44,326.87 67.36,325.04 70.64,323.9 73.92,322.77 78.84,321.06 82.12,319.93 85.4,318.79 90.32,317.33 93.6,316.36 96.88,315.38 101.8,314.57 105.08,314.04 108.36,314.04 113.28,314.05 116.56,314.06 119.84,314.06 124.76,314.07 128.04,314.08 131.32,314.08 136.24,314.09 139.52,314.1 142.8,314.1 147.72,314.11 151,314.12 154.28,314.12 159.2,314.13 162.48,314.14 165.76,314.15 170.68,314.15 173.96,314.16 177.24,314.17 182.16,314.18 185.44,314.18" stroke="#f0902e" stroke-width="1.5" fill="none" stroke-linejoin="round"/><circle cx="28" cy="312.45" r="1.8" fill="#f0902e"/><circle cx="32.92" cy="312.45" r="1.8" fill="#f0902e"/><circle cx="36.2" cy="315.62" r="1.8" fill="#f0902e"/><circle cx="39.48" cy="319.58" r="1.8" fill="#f0902e"/><circle cx="44.4" cy="324.73" r="1.8" fill="#f0902e"/><circle cx="47.68" cy="327.11" r="1.8" fill="#f0902e"/><circle cx="50.96" cy="327.9" r="1.8" fill="#f0902e"/><circle cx="55.88" cy="328.06" r="1.8" fill="#f0902e"/><circle cx="59.16" cy="327.69" r="1.8" fill="#f0902e"/><circle cx="62.44" cy="326.87" r="1.8" fill="#f0902e"/><circle cx="67.36" cy="325.04" r="1.8" fill="#f0902e"/><circle cx="70.64" cy="323.9" r="1.8" fill="#f0902e"/><circle cx="73.92" cy="322.77" r="1.8" fill="#f0902e"/><circle cx="78.84" cy="321.06" r="1.8" fill="#f0902e"/><circle cx="82.12" cy="319.93" r="1.8" fill="#f0902e"/><circle cx="85.4" cy="318.79" r="1.8" fill="#f0902e"/><circle cx="90.32" cy="317.33" r="1.8" fill="#f0902e"/><circle cx="93.6" cy="316.36" r="1.8" fill="#f0902e"/><circle cx="96.88" cy="315.38" r="1.8" fill="#f0902e"/><circle cx="101.8" cy="314.57" r="1.8" fill="#f0902e"/><circle cx="105.08" cy="314.04" r="1.8" fill="#f0902e"/><circle cx="108.36" cy="314.04" r="1.8" fill="#f0902e"/><circle cx="113.28" cy="314.05" r="1.8" fill="#f0902e"/><circle cx="116.56" cy="314.06" r="1.8" fill="#f0902e"/><circle cx="119.84" cy="314.06" r="1.8" fill="#f0902e"/><circle cx="124.76" cy="314.07" r="1.8" fill="#f0902e"/><circle cx="128.04" cy="314.08" r="1.8" fill="#f0902e"/><circle cx="131.32" cy="314.08" r="1.8" fill="#f0902e"/><circle cx="136.24" cy="314.09" r="1.8" fill="#f0902e"/><circle cx="139.52" cy="314.1" r="1.8" fill="#f0902e"/><circle cx="142.8" cy="314.1" r="1.8" fill="#f0902e"/><circle cx="147.72" cy="314.11" r="1.8" fill="#f0902e"/><circle cx="151" cy="314.12" r="1.8" fill="#f0902e"/><circle cx="154.28" cy="314.12" r="1.8" fill="#f0902e"/><circle cx="159.2" cy="314.13" r="1.8" fill="#f0902e"/><circle cx="162.48" cy="314.14" r="1.8" fill="#f0902e"/><circle cx="165.76" cy="314.15" r="1.8" fill="#f0902e"/><circle cx="170.68" cy="314.15" r="1.8" fill="#f0902e"/><circle cx="173.96" cy="314.16" r="1.8" fill="#f0902e"/><circle cx="177.24" cy="314.17" r="1.8" fill="#f0902e"/><circle cx="182.16" cy="314.18" r="1.8" fill="#f0902e"/><circle cx="185.44" cy="314.18" r="1.8" fill="#f0902e"/><polyline points="28,312.05 32.92,312.05 36.2,314.83 39.48,318.39 44.4,325 47.68,327.11 50.96,327.9 55.88,328.3 59.16,328.3 62.44,328.3 67.36,328.3 70.64,328.3 73.92,328.3 78.84,328.3 82.12,328.3 85.4,328.3 90.32,328.3 93.6,328.3 96.88,328.3 101.8,328.3 105.08,328.3 108.36,328.3 113.28,328.3 116.56,328.3 119.84,328.3 124.76,328.3 128.04,328.3 131.32,328.3 136.24,328.3 139.52,328.3 142.8,328.3 147.72,328.3 151,328.3 154.28,328.3 159.2,328.3 162.48,328.3 165.76,328.3 170.68,328.3 173.96,328.3 177.24,328.3 182.16,328.3 185.44,328.3" stroke="#e8201c" stroke-width="1.5" fill="none" stroke-linejoin="round"/><circle cx="28" cy="312.05" r="1.8" fill="#e8201c"/><circle cx="32.92" cy="312.05" r="1.8" fill="#e8201c"/><circle cx="36.2" cy="314.83" r="1.8" fill="#e8201c"/><circle cx="39.48" cy="318.39" r="1.8" fill="#e8201c"/><circle cx="44.4" cy="325" r="1.8" fill="#e8201c"/><circle cx="47.68" cy="327.11" r="1.8" fill="#e8201c"/><circle cx="50.96" cy="327.9" r="1.8" fill="#e8201c"/><circle cx="55.88" cy="328.3" r="1.8" fill="#e8201c"/><circle cx="59.16" cy="328.3" r="1.8" fill="#e8201c"/><circle cx="62.44" cy="328.3" r="1.8" fill="#e8201c"/><circle cx="67.36" cy="328.3" r="1.8" fill="#e8201c"/><circle cx="70.64" cy="328.3" r="1.8" fill="#e8201c"/><circle cx="73.92" cy="328.3" r="1.8" fill="#e8201c"/><circle cx="78.84" cy="328.3" r="1.8" fill="#e8201c"/><circle cx="82.12" cy="328.3" r="1.8" fill="#e8201c"/><circle cx="85.4" cy="328.3" r="1.8" fill="#e8201c"/><circle cx="90.32" cy="328.3" r="1.8" fill="#e8201c"/><circle cx="93.6" cy="328.3" r="1.8" fill="#e8201c"/><circle cx="96.88" cy="328.3" r="1.8" fill="#e8201c"/><circle cx="101.8" cy="328.3" r="1.8" fill="#e8201c"/><circle cx="105.08" cy="328.3" r="1.8" fill="#e8201c"/><circle cx="108.36" cy="328.3" r="1.8" fill="#e8201c"/><circle cx="113.28" cy="328.3" r="1.8" fill="#e8201c"/><circle cx="116.56" cy="328.3" r="1.8" fill="#e8201c"/><circle cx="119.84" cy="328.3" r="1.8" fill="#e8201c"/><circle cx="124.76" cy="328.3" r="1.8" fill="#e8201c"/><circle cx="128.04" cy="328.3" r="1.8" fill="#e8201c"/><circle cx="131.32" cy="328.3" r="1.8" fill="#e8201c"/><circle cx="136.24" cy="328.3" r="1.8" fill="#e8201c"/><circle cx="139.52" cy="328.3" r="1.8" fill="#e8201c"/><circle cx="142.8" cy="328.3" r="1.8" fill="#e8201c"/><circle cx="147.72" cy="328.3" r="1.8" fill="#e8201c"/><circle cx="151" cy="328.3" r="1.8" fill="#e8201c"/><circle cx="154.28" cy="328.3" r="1.8" fill="#e8201c"/><circle cx="159.2" cy="328.3" r="1.8" fill="#e8201c"/><circle cx="162.48" cy="328.3" r="1.8" fill="#e8201c"/><circle cx="165.76" cy="328.3" r="1.8" fill="#e8201c"/><circle cx="170.68" cy="328.3" r="1.8" fill="#e8201c"/><circle cx="173.96" cy="328.3" r="1.8" fill="#e8201c"/><circle cx="177.24" cy="328.3" r="1.8" fill="#e8201c"/><circle cx="182.16" cy="328.3" r="1.8" fill="#e8201c"/><circle cx="185.44" cy="328.3" r="1.8" fill="#e8201c"/><text x="2.5" y="191.9" font-size="11.3" font-weight="bold" text-anchor="start" fill="#000">B</text><text x="33" y="195" font-size="11" font-weight="normal" text-anchor="start" fill="#000" class="l" style="stroke-width:.3px">OPM2</text><text x="84" y="351.5" font-size="6.4" font-weight="bold" text-anchor="start" fill="#000" textLength="69" lengthAdjust="spacingAndGlyphs">Days Post&#160; Initial Dose</text><text transform="translate(5.2,313.8) rotate(-90)" font-size="6.3" font-weight="bold" textLength="86.4" lengthAdjust="spacingAndGlyphs">Mean Tumor Volume (mm3)</text><line x1="198.5" y1="205.4" x2="208.5" y2="205.4" stroke="#e020d8" stroke-width="1.3" stroke-opacity="0.8"/><path d="M203.5 204.1L204.8 205.4L203.5 206.7L202.2 205.4Z" fill="#e020d8"/><text class="l" x="212" y="208.8" font-size="10.2">iso <tspan font-size="8.8">(4 mg/kg x2)</tspan></text><line x1="199.5" y1="222.7" x2="206" y2="222.7" stroke="#a8183e" stroke-width="1.3" stroke-opacity="0.8"/><circle cx="202.75" cy="222.7" r="1.3" fill="#a8183e"/><text class="l" x="212" y="226.2" font-size="10.2">iso <tspan font-size="8.8">(4 mg/kg x4)</tspan></text><line x1="198.5" y1="241" x2="208.5" y2="241" stroke="#33e08c" stroke-width="1.3" stroke-opacity="0.8"/><rect x="201.94" y="240.22" width="3.12" height="1.56" fill="#33e08c"/><text class="l" x="212" y="243.6" font-size="10.2">iso-mcMMAF <tspan font-size="8.8">(4 mg/kg x2)</tspan></text><line x1="198.5" y1="257.9" x2="208.5" y2="257.9" stroke="#14946a" stroke-width="1.3" stroke-opacity="0.8"/><path d="M203.5 256.6L204.8 257.9L203.5 259.2L202.2 257.9Z" fill="#14946a"/><text class="l" x="212" y="261.2" font-size="10.2">iso-mcMMAF <tspan font-size="8.8">(4 mg/kg x4)</tspan></text><line x1="198.5" y1="276" x2="208.5" y2="276" stroke="#33b8e6" stroke-width="1.3" stroke-opacity="0.8"/><path d="M203.5 274.7L204.8 276L203.5 277.3L202.2 276Z" fill="#33b8e6"/><text class="l" x="212" y="279.5" font-size="10.2">J6M0 <tspan font-size="8.8">(4 mg/kg x2)</tspan></text><line x1="198.5" y1="293" x2="208.5" y2="293" stroke="#1a2a6c" stroke-width="1.3" stroke-opacity="0.8"/><path d="M203.5 291.7L204.8 293L203.5 294.3L202.2 293Z" fill="#1a2a6c"/><text class="l" x="212" y="296.7" font-size="10.2">J6M0 <tspan font-size="8.8">(4 mg/kg x4)</tspan></text><line x1="198.5" y1="310.5" x2="208.5" y2="310.5" stroke="#f0902e" stroke-width="1.3" stroke-opacity="0.8"/><circle cx="203.5" cy="310.5" r="1.3" fill="#f0902e"/><text class="l" x="212" y="313.6" font-size="10.2">J6M0-mcMMAF</text><text class="l" x="212" y="323.7" font-size="8.8">(4 mg/kg x2)</text><line x1="198.5" y1="328.4" x2="208.5" y2="328.4" stroke="#e8201c" stroke-width="1.3" stroke-opacity="0.8"/><circle cx="203.5" cy="328.4" r="1.3" fill="#e8201c"/><text class="l" x="212" y="336.2" font-size="10.2">J6M0-mcMMAF</text><text class="l" x="212" y="345.5" font-size="8.8">(4 mg/kg x4)</text><text x="296" y="9.4" font-size="12" font-weight="bold" text-anchor="start" fill="#000">C</text><text x="340.2" y="9" font-size="10" font-weight="bold" text-anchor="start" fill="#000" textLength="31.3" lengthAdjust="spacingAndGlyphs">MM1S</text><path d="M336.5 28.15V137.7M336.5 136.9H513.8" stroke="#000" stroke-width="1.2" fill="none"/><path d="M334.3 136.9H336.5M334.3 111.34H336.5M334.3 85.78H336.5M334.3 60.21H336.5M334.3 34.65H336.5M336.6 136.9V139.2M371.85 136.9V139.2M407.1 136.9V139.2M442.35 136.9V139.2M477.6 136.9V139.2M512.85 136.9V139.2" stroke="#000" stroke-width="1.1" fill="none"/><text x="331" y="140.4" font-size="10" font-weight="bold" text-anchor="end" fill="#000" class="c" transform="translate(331,0) scale(0.76,1) translate(-331,0)">0</text><text x="331" y="114.84" font-size="10" font-weight="bold" text-anchor="end" fill="#000" class="c" transform="translate(331,0) scale(0.76,1) translate(-331,0)">25</text><text x="331" y="89.28" font-size="10" font-weight="bold" text-anchor="end" fill="#000" class="c" transform="translate(331,0) scale(0.76,1) translate(-331,0)">50</text><text x="331" y="63.71" font-size="10" font-weight="bold" text-anchor="end" fill="#000" class="c" transform="translate(331,0) scale(0.76,1) translate(-331,0)">75</text><text x="331" y="38.15" font-size="10" font-weight="bold" text-anchor="end" fill="#000" class="c" transform="translate(331,0) scale(0.76,1) translate(-331,0)">100</text><text x="336.6" y="151.2" font-size="10" font-weight="bold" text-anchor="middle" fill="#000" class="c" transform="translate(336.6,0) scale(0.76,1) translate(-336.6,0)">0</text><text x="371.85" y="151.2" font-size="10" font-weight="bold" text-anchor="middle" fill="#000" class="c" transform="translate(371.85,0) scale(0.76,1) translate(-371.85,0)">25</text><text x="407.1" y="151.2" font-size="10" font-weight="bold" text-anchor="middle" fill="#000" class="c" transform="translate(407.1,0) scale(0.76,1) translate(-407.1,0)">50</text><text x="442.35" y="151.2" font-size="10" font-weight="bold" text-anchor="middle" fill="#000" class="c" transform="translate(442.35,0) scale(0.76,1) translate(-442.35,0)">75</text><text x="477.6" y="151.2" font-size="10" font-weight="bold" text-anchor="middle" fill="#000" class="c" transform="translate(477.6,0) scale(0.76,1) translate(-477.6,0)">100</text><text x="512.85" y="151.2" font-size="10" font-weight="bold" text-anchor="middle" fill="#000" class="c" transform="translate(512.85,0) scale(0.76,1) translate(-512.85,0)">125</text><text class="c" transform="translate(311.6,108.9) rotate(-90)" font-size="8.3" font-weight="bold" textLength="73" lengthAdjust="spacing">Percent survival</text><text x="371.3" y="163.5" font-size="8.3" font-weight="bold" text-anchor="start" fill="#000" class="c" textLength="106.4" lengthAdjust="spacing">Days Post Tumor Injection</text><path d="M336.6 34.65H404.28H404.28V72.99H424.02H424.02V111.34H446.58H446.58V124.12H495.93" stroke="#f07a22" stroke-width="1.5" fill="none"/><path d="M336.6 34.65H393H393V72.99H404.28H404.28V111.34H424.02" stroke="#111" stroke-width="1.5" fill="none"/><path d="M336.6 34.65H456.45H456.45V47.43H474.78H474.78V85.78H483.24H483.24V98.56H495.93" stroke="#1818d6" stroke-width="1.5" fill="none"/><path d="M336.6 34.65H456.45H456.45V47.43H474.78H474.78V60.21H483.24H483.24V72.99H495.93" stroke="#2ec02e" stroke-width="1.5" fill="none"/><path d="M456.45 34.65H495.93" stroke="#e53a3a" stroke-width="1.5" fill="none"/><path d="M336.6 34.65H456.45" stroke="#4a8a2a" stroke-width="1.7" fill="none"/><path d="M456.45 34.65V47.43H474.78" stroke="#2e8f45" stroke-width="1.5" fill="none"/><circle cx="393" cy="72.99" r="2.6" fill="#111"/><circle cx="404.28" cy="111.34" r="2.6" fill="#111"/><rect x="401.68" y="70.39" width="5.2" height="5.2" fill="#f07a22"/><rect x="421.42" y="108.74" width="5.2" height="5.2" fill="#f07a22"/><rect x="443.98" y="121.52" width="5.2" height="5.2" fill="#f07a22"/><rect x="493.33" y="121.52" width="5.2" height="5.2" fill="#f07a22"/><path d="M456.45 45.73L458.65 49.69L454.25 49.69Z" fill="#1a3a8a"/><path d="M474.78 82.78L477.78 88.18L471.78 88.18Z" fill="#1818d6"/><path d="M483.24 95.56L486.24 100.96L480.24 100.96Z" fill="#1818d6"/><path d="M495.93 95.56L498.93 100.96L492.93 100.96Z" fill="#1818d6"/><path d="M474.78 57.21L477.78 60.21L474.78 63.21L471.78 60.21Z" fill="#2ec02e"/><path d="M483.24 69.99L486.24 72.99L483.24 75.99L480.24 72.99Z" fill="#2ec02e"/><path d="M495.93 69.99L498.93 72.99L495.93 75.99L492.93 72.99Z" fill="#2ec02e"/><path d="M495.93 37.75L499.03 32.17L492.83 32.17Z" fill="#e53a3a"/><line x1="384" y1="200.1" x2="398" y2="200.1" stroke="#e53a3a" stroke-width="1.5"/><path d="M390.9 203.2L394 197.62L387.8 197.62Z" fill="#e53a3a"/><text class="l" x="404.2" y="203.7" font-size="10.2">J6M0-mcMMAF</text><text class="l" x="404.2" y="214.6" font-size="8.8">(0.4 mg/kg)</text><line x1="384" y1="228" x2="398" y2="228" stroke="#2ec02e" stroke-width="1.5"/><path d="M390.9 224.9L394 228L390.9 231.1L387.8 228Z" fill="#2ec02e"/><text class="l" x="404.2" y="231.8" font-size="10.2">J6M0-mcMMAF</text><text class="l" x="404.2" y="242.9" font-size="8.8">(4 mg/kg)</text><line x1="384" y1="253.5" x2="398" y2="253.5" stroke="#1818d6" stroke-width="1.5"/><path d="M390.9 250.4L394 255.98L387.8 255.98Z" fill="#1818d6"/><text class="l" x="404.2" y="258.5" font-size="10">J6M0 <tspan x="435.4" font-size="8.6">(4mg/kg)</tspan></text><line x1="384" y1="273.5" x2="398" y2="273.5" stroke="#f07a22" stroke-width="1.5"/><rect x="387.9" y="270.5" width="6" height="6" fill="#f07a22"/><text class="l" x="404.2" y="274" font-size="10.2">iso-mcMMAF</text><text class="l" x="404.2" y="285.3" font-size="8.8">(4 mg/kg)</text><line x1="384" y1="297.8" x2="398" y2="297.8" stroke="#111" stroke-width="1.5"/><circle cx="390.9" cy="297.8" r="3" fill="#111"/><text class="l" x="404.2" y="299" font-size="10.5">vehicle</text></svg></body></html>
